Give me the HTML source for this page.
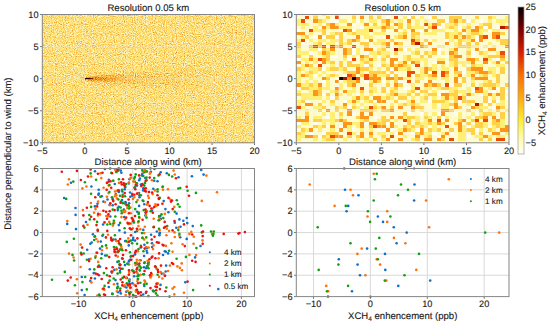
<!DOCTYPE html><html><head><meta charset="utf-8"><style>html,body{margin:0;padding:0;background:#fff;width:550px;height:324px;overflow:hidden}svg{display:block}text{text-rendering:geometricPrecision;font-family:"Liberation Sans", sans-serif;fill:#1a1a1a;stroke:#1a1a1a;stroke-width:0.12px}</style></head><body>
<svg width="550" height="324" viewBox="0 0 550 324">
<defs>
<linearGradient id="cb" x1="0" y1="1" x2="0" y2="0"><stop offset="0" stop-color="#fffff6"/><stop offset="0.12" stop-color="#fffaa0"/><stop offset="0.23" stop-color="#ffee30"/><stop offset="0.38" stop-color="#ffaa10"/><stop offset="0.54" stop-color="#f87000"/><stop offset="0.69" stop-color="#d82000"/><stop offset="0.85" stop-color="#7a0000"/><stop offset="1" stop-color="#000000"/></linearGradient>
</defs>
<filter id="tn" x="0" y="0" width="1" height="1" color-interpolation-filters="sRGB"><feTurbulence type="fractalNoise" baseFrequency="0.9" numOctaves="2" seed="11" result="n0"/><feColorMatrix in="n0" type="matrix" values="1 0 0 0 0 1 0 0 0 0 1 0 0 0 0 0 0 0 0 1" result="n"/><feComposite in="SourceGraphic" in2="n" operator="arithmetic" k1="0" k2="1" k3="0.6769" k4="-0.1077"/><feComponentTransfer><feFuncR type="table" tableValues="1.000 1.000 1.000 1.000 1.000 1.000 0.996 0.992 0.988 0.984 0.980 0.976 0.969 0.961 0.953 0.937 0.925 0.894 0.859 0.827 0.792 0.733 0.667 0.604 0.541 0.478 0.424 0.373 0.322 0.271 0.220 0.169 0.118"/><feFuncG type="table" tableValues="0.988 0.984 0.973 0.961 0.945 0.929 0.914 0.894 0.867 0.831 0.796 0.753 0.710 0.663 0.608 0.553 0.494 0.431 0.369 0.310 0.247 0.208 0.176 0.145 0.114 0.082 0.067 0.059 0.047 0.035 0.024 0.012 0.000"/><feFuncB type="table" tableValues="0.910 0.890 0.847 0.776 0.706 0.635 0.561 0.490 0.431 0.384 0.337 0.298 0.263 0.231 0.196 0.161 0.125 0.102 0.082 0.063 0.043 0.031 0.024 0.016 0.008 0.000 0.000 0.000 0.000 0.000 0.000 0.000 0.000"/></feComponentTransfer><feGaussianBlur stdDeviation="0.5"/></filter>
<filter id="pb" x="-50%" y="-50%" width="200%" height="200%"><feGaussianBlur stdDeviation="1.5 0.5"/></filter>
<g filter="url(#tn)">
<rect x="42.3" y="14.5" width="212.20" height="128.30" fill="#000"/>
<linearGradient id="pg1" gradientUnits="userSpaceOnUse" x1="88.98" y1="0" x2="220.55" y2="0"><stop offset="0" stop-color="#1b1b1b"/><stop offset="1" stop-color="#000000"/></linearGradient>
<filter id="pf1" x="-50%" y="-300%" width="200%" height="700%" color-interpolation-filters="sRGB"><feGaussianBlur stdDeviation="4 2"/></filter>
<polygon points="88.98,76.18 220.55,66.55 220.55,90.95 88.98,81.32" fill="url(#pg1)" filter="url(#pf1)"/>
<linearGradient id="pg2" gradientUnits="userSpaceOnUse" x1="87.29" y1="0" x2="152.64" y2="0"><stop offset="0" stop-color="#2f2f2f"/><stop offset="1" stop-color="#090909"/></linearGradient>
<filter id="pf2" x="-50%" y="-300%" width="200%" height="700%" color-interpolation-filters="sRGB"><feGaussianBlur stdDeviation="3 1.2"/></filter>
<polygon points="87.29,76.95 152.64,73.61 152.64,83.89 87.29,80.55" fill="url(#pg2)" filter="url(#pf2)"/>
<linearGradient id="pg3" gradientUnits="userSpaceOnUse" x1="87.29" y1="0" x2="118.69" y2="0"><stop offset="0" stop-color="#565656"/><stop offset="1" stop-color="#1f1f1f"/></linearGradient>
<filter id="pf3" x="-50%" y="-300%" width="200%" height="700%" color-interpolation-filters="sRGB"><feGaussianBlur stdDeviation="1.5 0.8"/></filter>
<polygon points="87.29,77.68 118.69,76.14 118.69,81.28 87.29,79.74" fill="url(#pg3)" filter="url(#pf3)"/>
<linearGradient id="pg4" gradientUnits="userSpaceOnUse" x1="85.16" y1="0" x2="93.23" y2="0"><stop offset="0" stop-color="#ffffff"/><stop offset="1" stop-color="#8d8d8d"/></linearGradient>
<filter id="pf4" x="-50%" y="-300%" width="200%" height="700%" color-interpolation-filters="sRGB"><feGaussianBlur stdDeviation="0.6 0.3"/></filter>
<polygon points="85.16,78.07 93.23,78.33 93.23,78.97 85.16,79.23" fill="url(#pg4)" filter="url(#pf4)"/>
</g>
<g shape-rendering="crispEdges">
<rect x="296.3" y="14.5" width="212.70" height="128.30" fill="#fffbcc"/>
<rect x="313.32" y="14.50" width="4.25" height="1.60" fill="#fff075"/>
<rect x="321.82" y="14.50" width="4.25" height="1.60" fill="#fff075"/>
<rect x="334.59" y="14.50" width="4.25" height="1.60" fill="#ffd048"/>
<rect x="351.60" y="14.50" width="4.25" height="1.60" fill="#fff075"/>
<rect x="360.11" y="14.50" width="4.25" height="1.60" fill="#fff075"/>
<rect x="368.62" y="14.50" width="4.25" height="1.60" fill="#fff075"/>
<rect x="377.13" y="14.50" width="4.25" height="1.60" fill="#fff075"/>
<rect x="304.81" y="16.10" width="4.25" height="3.21" fill="#ea4c0a"/>
<rect x="313.32" y="16.10" width="4.25" height="3.21" fill="#ffd048"/>
<rect x="326.08" y="16.10" width="4.25" height="3.21" fill="#ffd048"/>
<rect x="334.59" y="16.10" width="4.25" height="3.21" fill="#ea4c0a"/>
<rect x="351.60" y="16.10" width="4.25" height="3.21" fill="#ffd048"/>
<rect x="360.11" y="16.10" width="4.25" height="3.21" fill="#fb961a"/>
<rect x="368.62" y="16.10" width="4.25" height="3.21" fill="#ffd048"/>
<rect x="377.13" y="16.10" width="4.25" height="3.21" fill="#ffd048"/>
<rect x="385.63" y="16.10" width="4.25" height="3.21" fill="#fdfdf2"/>
<rect x="394.14" y="16.10" width="4.25" height="3.21" fill="#ea4c0a"/>
<rect x="402.65" y="16.10" width="4.25" height="3.21" fill="#fff075"/>
<rect x="406.90" y="16.10" width="4.25" height="3.21" fill="#fdfdf2"/>
<rect x="411.16" y="16.10" width="4.25" height="3.21" fill="#ffd048"/>
<rect x="419.67" y="16.10" width="4.25" height="3.21" fill="#fff075"/>
<rect x="428.17" y="16.10" width="4.25" height="3.21" fill="#fdfdf2"/>
<rect x="432.43" y="16.10" width="4.25" height="3.21" fill="#ffd048"/>
<rect x="449.44" y="16.10" width="12.76" height="3.21" fill="#ffd048"/>
<rect x="474.97" y="16.10" width="4.25" height="3.21" fill="#ffd048"/>
<rect x="487.73" y="16.10" width="4.25" height="3.21" fill="#ffd048"/>
<rect x="491.98" y="16.10" width="4.25" height="3.21" fill="#fff075"/>
<rect x="504.75" y="16.10" width="4.25" height="3.21" fill="#fff075"/>
<rect x="296.30" y="19.31" width="4.25" height="3.21" fill="#fff075"/>
<rect x="300.55" y="19.31" width="4.25" height="3.21" fill="#ea4c0a"/>
<rect x="313.32" y="19.31" width="4.25" height="3.21" fill="#fb961a"/>
<rect x="317.57" y="19.31" width="4.25" height="3.21" fill="#ffd048"/>
<rect x="321.82" y="19.31" width="4.25" height="3.21" fill="#fff075"/>
<rect x="330.33" y="19.31" width="8.51" height="3.21" fill="#fdfdf2"/>
<rect x="338.84" y="19.31" width="8.51" height="3.21" fill="#fff075"/>
<rect x="351.60" y="19.31" width="4.25" height="3.21" fill="#fff075"/>
<rect x="355.86" y="19.31" width="4.25" height="3.21" fill="#fdfdf2"/>
<rect x="360.11" y="19.31" width="4.25" height="3.21" fill="#fff075"/>
<rect x="368.62" y="19.31" width="8.51" height="3.21" fill="#fff075"/>
<rect x="381.38" y="19.31" width="4.25" height="3.21" fill="#ffd048"/>
<rect x="385.63" y="19.31" width="4.25" height="3.21" fill="#fb961a"/>
<rect x="389.89" y="19.31" width="4.25" height="3.21" fill="#fff075"/>
<rect x="398.40" y="19.31" width="4.25" height="3.21" fill="#fff075"/>
<rect x="406.90" y="19.31" width="4.25" height="3.21" fill="#fb961a"/>
<rect x="415.41" y="19.31" width="4.25" height="3.21" fill="#fff075"/>
<rect x="423.92" y="19.31" width="4.25" height="3.21" fill="#fff075"/>
<rect x="436.68" y="19.31" width="8.51" height="3.21" fill="#ffd048"/>
<rect x="445.19" y="19.31" width="4.25" height="3.21" fill="#fdfdf2"/>
<rect x="449.44" y="19.31" width="4.25" height="3.21" fill="#ffd048"/>
<rect x="453.70" y="19.31" width="4.25" height="3.21" fill="#fb961a"/>
<rect x="457.95" y="19.31" width="4.25" height="3.21" fill="#fff075"/>
<rect x="462.21" y="19.31" width="4.25" height="3.21" fill="#ffd048"/>
<rect x="466.46" y="19.31" width="4.25" height="3.21" fill="#fdfdf2"/>
<rect x="470.71" y="19.31" width="4.25" height="3.21" fill="#fff075"/>
<rect x="479.22" y="19.31" width="4.25" height="3.21" fill="#fdfdf2"/>
<rect x="487.73" y="19.31" width="4.25" height="3.21" fill="#fff075"/>
<rect x="496.24" y="19.31" width="12.76" height="3.21" fill="#fff075"/>
<rect x="296.30" y="22.52" width="12.76" height="3.21" fill="#fff075"/>
<rect x="317.57" y="22.52" width="4.25" height="3.21" fill="#fff075"/>
<rect x="321.82" y="22.52" width="4.25" height="3.21" fill="#fdfdf2"/>
<rect x="326.08" y="22.52" width="4.25" height="3.21" fill="#ffd048"/>
<rect x="330.33" y="22.52" width="4.25" height="3.21" fill="#fb961a"/>
<rect x="334.59" y="22.52" width="4.25" height="3.21" fill="#fff075"/>
<rect x="347.35" y="22.52" width="4.25" height="3.21" fill="#fb961a"/>
<rect x="351.60" y="22.52" width="4.25" height="3.21" fill="#fdfdf2"/>
<rect x="364.36" y="22.52" width="4.25" height="3.21" fill="#fb961a"/>
<rect x="372.87" y="22.52" width="4.25" height="3.21" fill="#ffd048"/>
<rect x="381.38" y="22.52" width="4.25" height="3.21" fill="#fff075"/>
<rect x="385.63" y="22.52" width="4.25" height="3.21" fill="#fb961a"/>
<rect x="394.14" y="22.52" width="4.25" height="3.21" fill="#fb961a"/>
<rect x="398.40" y="22.52" width="4.25" height="3.21" fill="#ffd048"/>
<rect x="406.90" y="22.52" width="4.25" height="3.21" fill="#ffd048"/>
<rect x="415.41" y="22.52" width="4.25" height="3.21" fill="#fff075"/>
<rect x="423.92" y="22.52" width="4.25" height="3.21" fill="#ea4c0a"/>
<rect x="428.17" y="22.52" width="4.25" height="3.21" fill="#fff075"/>
<rect x="432.43" y="22.52" width="4.25" height="3.21" fill="#fb961a"/>
<rect x="436.68" y="22.52" width="4.25" height="3.21" fill="#ffd048"/>
<rect x="440.94" y="22.52" width="4.25" height="3.21" fill="#fdfdf2"/>
<rect x="445.19" y="22.52" width="8.51" height="3.21" fill="#fff075"/>
<rect x="453.70" y="22.52" width="4.25" height="3.21" fill="#ffd048"/>
<rect x="466.46" y="22.52" width="4.25" height="3.21" fill="#fff075"/>
<rect x="474.97" y="22.52" width="4.25" height="3.21" fill="#fdfdf2"/>
<rect x="479.22" y="22.52" width="4.25" height="3.21" fill="#fff075"/>
<rect x="483.48" y="22.52" width="8.51" height="3.21" fill="#ffd048"/>
<rect x="500.49" y="22.52" width="4.25" height="3.21" fill="#fff075"/>
<rect x="300.55" y="25.73" width="4.25" height="3.21" fill="#fff075"/>
<rect x="313.32" y="25.73" width="4.25" height="3.21" fill="#fff075"/>
<rect x="321.82" y="25.73" width="4.25" height="3.21" fill="#fb961a"/>
<rect x="326.08" y="25.73" width="4.25" height="3.21" fill="#fff075"/>
<rect x="330.33" y="25.73" width="8.51" height="3.21" fill="#fb961a"/>
<rect x="338.84" y="25.73" width="12.76" height="3.21" fill="#fff075"/>
<rect x="360.11" y="25.73" width="4.25" height="3.21" fill="#fdfdf2"/>
<rect x="364.36" y="25.73" width="17.02" height="3.21" fill="#fff075"/>
<rect x="381.38" y="25.73" width="4.25" height="3.21" fill="#fb961a"/>
<rect x="385.63" y="25.73" width="4.25" height="3.21" fill="#ffd048"/>
<rect x="389.89" y="25.73" width="4.25" height="3.21" fill="#fff075"/>
<rect x="398.40" y="25.73" width="4.25" height="3.21" fill="#ffd048"/>
<rect x="406.90" y="25.73" width="4.25" height="3.21" fill="#ffd048"/>
<rect x="411.16" y="25.73" width="12.76" height="3.21" fill="#fff075"/>
<rect x="428.17" y="25.73" width="4.25" height="3.21" fill="#ffd048"/>
<rect x="432.43" y="25.73" width="4.25" height="3.21" fill="#ea4c0a"/>
<rect x="436.68" y="25.73" width="4.25" height="3.21" fill="#fdfdf2"/>
<rect x="445.19" y="25.73" width="4.25" height="3.21" fill="#fff075"/>
<rect x="449.44" y="25.73" width="4.25" height="3.21" fill="#ffd048"/>
<rect x="453.70" y="25.73" width="4.25" height="3.21" fill="#fff075"/>
<rect x="457.95" y="25.73" width="4.25" height="3.21" fill="#fdfdf2"/>
<rect x="462.21" y="25.73" width="4.25" height="3.21" fill="#fff075"/>
<rect x="466.46" y="25.73" width="4.25" height="3.21" fill="#ffd048"/>
<rect x="474.97" y="25.73" width="4.25" height="3.21" fill="#fb961a"/>
<rect x="479.22" y="25.73" width="4.25" height="3.21" fill="#ffd048"/>
<rect x="483.48" y="25.73" width="4.25" height="3.21" fill="#fdfdf2"/>
<rect x="487.73" y="25.73" width="4.25" height="3.21" fill="#ffd048"/>
<rect x="496.24" y="25.73" width="4.25" height="3.21" fill="#fdfdf2"/>
<rect x="500.49" y="25.73" width="4.25" height="3.21" fill="#b01800"/>
<rect x="504.75" y="25.73" width="4.25" height="3.21" fill="#ea4c0a"/>
<rect x="296.30" y="28.93" width="4.25" height="3.21" fill="#fdfdf2"/>
<rect x="309.06" y="28.93" width="4.25" height="3.21" fill="#ea4c0a"/>
<rect x="313.32" y="28.93" width="8.51" height="3.21" fill="#fff075"/>
<rect x="321.82" y="28.93" width="4.25" height="3.21" fill="#ffd048"/>
<rect x="338.84" y="28.93" width="4.25" height="3.21" fill="#fdfdf2"/>
<rect x="343.09" y="28.93" width="4.25" height="3.21" fill="#ea4c0a"/>
<rect x="347.35" y="28.93" width="4.25" height="3.21" fill="#fb961a"/>
<rect x="351.60" y="28.93" width="4.25" height="3.21" fill="#fdfdf2"/>
<rect x="355.86" y="28.93" width="12.76" height="3.21" fill="#fff075"/>
<rect x="368.62" y="28.93" width="4.25" height="3.21" fill="#ea4c0a"/>
<rect x="381.38" y="28.93" width="4.25" height="3.21" fill="#ffd048"/>
<rect x="385.63" y="28.93" width="4.25" height="3.21" fill="#fdfdf2"/>
<rect x="394.14" y="28.93" width="4.25" height="3.21" fill="#fb961a"/>
<rect x="402.65" y="28.93" width="4.25" height="3.21" fill="#fff075"/>
<rect x="411.16" y="28.93" width="4.25" height="3.21" fill="#fb961a"/>
<rect x="419.67" y="28.93" width="4.25" height="3.21" fill="#fdfdf2"/>
<rect x="423.92" y="28.93" width="4.25" height="3.21" fill="#fb961a"/>
<rect x="432.43" y="28.93" width="12.76" height="3.21" fill="#fff075"/>
<rect x="453.70" y="28.93" width="4.25" height="3.21" fill="#fff075"/>
<rect x="462.21" y="28.93" width="4.25" height="3.21" fill="#fb961a"/>
<rect x="466.46" y="28.93" width="4.25" height="3.21" fill="#fff075"/>
<rect x="470.71" y="28.93" width="8.51" height="3.21" fill="#fb961a"/>
<rect x="479.22" y="28.93" width="8.51" height="3.21" fill="#fff075"/>
<rect x="487.73" y="28.93" width="4.25" height="3.21" fill="#fdfdf2"/>
<rect x="491.98" y="28.93" width="8.51" height="3.21" fill="#fff075"/>
<rect x="296.30" y="32.14" width="8.51" height="3.21" fill="#fb961a"/>
<rect x="309.06" y="32.14" width="4.25" height="3.21" fill="#fff075"/>
<rect x="321.82" y="32.14" width="4.25" height="3.21" fill="#ffd048"/>
<rect x="330.33" y="32.14" width="4.25" height="3.21" fill="#fff075"/>
<rect x="334.59" y="32.14" width="8.51" height="3.21" fill="#ffd048"/>
<rect x="347.35" y="32.14" width="4.25" height="3.21" fill="#fff075"/>
<rect x="351.60" y="32.14" width="4.25" height="3.21" fill="#ffd048"/>
<rect x="355.86" y="32.14" width="12.76" height="3.21" fill="#fff075"/>
<rect x="372.87" y="32.14" width="12.76" height="3.21" fill="#fff075"/>
<rect x="398.40" y="32.14" width="4.25" height="3.21" fill="#fff075"/>
<rect x="402.65" y="32.14" width="4.25" height="3.21" fill="#ffd048"/>
<rect x="411.16" y="32.14" width="8.51" height="3.21" fill="#ffd048"/>
<rect x="423.92" y="32.14" width="12.76" height="3.21" fill="#fff075"/>
<rect x="445.19" y="32.14" width="4.25" height="3.21" fill="#ffd048"/>
<rect x="449.44" y="32.14" width="8.51" height="3.21" fill="#fff075"/>
<rect x="457.95" y="32.14" width="4.25" height="3.21" fill="#ffd048"/>
<rect x="466.46" y="32.14" width="4.25" height="3.21" fill="#fff075"/>
<rect x="470.71" y="32.14" width="8.51" height="3.21" fill="#ffd048"/>
<rect x="479.22" y="32.14" width="4.25" height="3.21" fill="#fff075"/>
<rect x="491.98" y="32.14" width="8.51" height="3.21" fill="#fb961a"/>
<rect x="500.49" y="32.14" width="4.25" height="3.21" fill="#ffd048"/>
<rect x="300.55" y="35.35" width="4.25" height="3.21" fill="#fff075"/>
<rect x="304.81" y="35.35" width="4.25" height="3.21" fill="#ffd048"/>
<rect x="313.32" y="35.35" width="4.25" height="3.21" fill="#fdfdf2"/>
<rect x="317.57" y="35.35" width="4.25" height="3.21" fill="#fb961a"/>
<rect x="321.82" y="35.35" width="4.25" height="3.21" fill="#fdfdf2"/>
<rect x="326.08" y="35.35" width="8.51" height="3.21" fill="#ffd048"/>
<rect x="334.59" y="35.35" width="4.25" height="3.21" fill="#fdfdf2"/>
<rect x="338.84" y="35.35" width="4.25" height="3.21" fill="#ffd048"/>
<rect x="355.86" y="35.35" width="4.25" height="3.21" fill="#fb961a"/>
<rect x="364.36" y="35.35" width="8.51" height="3.21" fill="#fff075"/>
<rect x="385.63" y="35.35" width="4.25" height="3.21" fill="#ea4c0a"/>
<rect x="394.14" y="35.35" width="4.25" height="3.21" fill="#fff075"/>
<rect x="398.40" y="35.35" width="4.25" height="3.21" fill="#ffd048"/>
<rect x="402.65" y="35.35" width="4.25" height="3.21" fill="#fb961a"/>
<rect x="411.16" y="35.35" width="4.25" height="3.21" fill="#ffd048"/>
<rect x="415.41" y="35.35" width="4.25" height="3.21" fill="#fff075"/>
<rect x="445.19" y="35.35" width="4.25" height="3.21" fill="#ffd048"/>
<rect x="449.44" y="35.35" width="4.25" height="3.21" fill="#fff075"/>
<rect x="453.70" y="35.35" width="4.25" height="3.21" fill="#fb961a"/>
<rect x="457.95" y="35.35" width="4.25" height="3.21" fill="#fff075"/>
<rect x="462.21" y="35.35" width="4.25" height="3.21" fill="#fb961a"/>
<rect x="466.46" y="35.35" width="4.25" height="3.21" fill="#ffd048"/>
<rect x="470.71" y="35.35" width="4.25" height="3.21" fill="#fff075"/>
<rect x="474.97" y="35.35" width="4.25" height="3.21" fill="#fdfdf2"/>
<rect x="479.22" y="35.35" width="4.25" height="3.21" fill="#fb961a"/>
<rect x="483.48" y="35.35" width="4.25" height="3.21" fill="#ea4c0a"/>
<rect x="491.98" y="35.35" width="4.25" height="3.21" fill="#fb961a"/>
<rect x="496.24" y="35.35" width="4.25" height="3.21" fill="#ea4c0a"/>
<rect x="296.30" y="38.56" width="4.25" height="3.21" fill="#fff075"/>
<rect x="300.55" y="38.56" width="4.25" height="3.21" fill="#ea4c0a"/>
<rect x="304.81" y="38.56" width="4.25" height="3.21" fill="#fdfdf2"/>
<rect x="309.06" y="38.56" width="4.25" height="3.21" fill="#fff075"/>
<rect x="317.57" y="38.56" width="8.51" height="3.21" fill="#fff075"/>
<rect x="330.33" y="38.56" width="8.51" height="3.21" fill="#fff075"/>
<rect x="338.84" y="38.56" width="4.25" height="3.21" fill="#ffd048"/>
<rect x="347.35" y="38.56" width="4.25" height="3.21" fill="#ffd048"/>
<rect x="351.60" y="38.56" width="4.25" height="3.21" fill="#fb961a"/>
<rect x="355.86" y="38.56" width="4.25" height="3.21" fill="#ffd048"/>
<rect x="364.36" y="38.56" width="4.25" height="3.21" fill="#fdfdf2"/>
<rect x="368.62" y="38.56" width="4.25" height="3.21" fill="#fb961a"/>
<rect x="377.13" y="38.56" width="8.51" height="3.21" fill="#fff075"/>
<rect x="389.89" y="38.56" width="4.25" height="3.21" fill="#ffd048"/>
<rect x="411.16" y="38.56" width="4.25" height="3.21" fill="#ea4c0a"/>
<rect x="415.41" y="38.56" width="4.25" height="3.21" fill="#ffd048"/>
<rect x="423.92" y="38.56" width="4.25" height="3.21" fill="#ffd048"/>
<rect x="432.43" y="38.56" width="4.25" height="3.21" fill="#fff075"/>
<rect x="445.19" y="38.56" width="4.25" height="3.21" fill="#fdfdf2"/>
<rect x="449.44" y="38.56" width="4.25" height="3.21" fill="#fff075"/>
<rect x="457.95" y="38.56" width="4.25" height="3.21" fill="#ffd048"/>
<rect x="462.21" y="38.56" width="8.51" height="3.21" fill="#fff075"/>
<rect x="470.71" y="38.56" width="4.25" height="3.21" fill="#fb961a"/>
<rect x="474.97" y="38.56" width="4.25" height="3.21" fill="#fdfdf2"/>
<rect x="479.22" y="38.56" width="4.25" height="3.21" fill="#fb961a"/>
<rect x="496.24" y="38.56" width="4.25" height="3.21" fill="#fff075"/>
<rect x="500.49" y="38.56" width="8.51" height="3.21" fill="#ffd048"/>
<rect x="296.30" y="41.76" width="4.25" height="3.21" fill="#ffd048"/>
<rect x="300.55" y="41.76" width="4.25" height="3.21" fill="#fdfdf2"/>
<rect x="313.32" y="41.76" width="4.25" height="3.21" fill="#fff075"/>
<rect x="317.57" y="41.76" width="4.25" height="3.21" fill="#ffd048"/>
<rect x="326.08" y="41.76" width="8.51" height="3.21" fill="#fff075"/>
<rect x="338.84" y="41.76" width="4.25" height="3.21" fill="#ffd048"/>
<rect x="343.09" y="41.76" width="4.25" height="3.21" fill="#fff075"/>
<rect x="347.35" y="41.76" width="4.25" height="3.21" fill="#ffd048"/>
<rect x="360.11" y="41.76" width="8.51" height="3.21" fill="#ffd048"/>
<rect x="372.87" y="41.76" width="8.51" height="3.21" fill="#fff075"/>
<rect x="381.38" y="41.76" width="4.25" height="3.21" fill="#ffd048"/>
<rect x="385.63" y="41.76" width="4.25" height="3.21" fill="#fb961a"/>
<rect x="394.14" y="41.76" width="4.25" height="3.21" fill="#fb961a"/>
<rect x="398.40" y="41.76" width="4.25" height="3.21" fill="#ffd048"/>
<rect x="411.16" y="41.76" width="4.25" height="3.21" fill="#fb961a"/>
<rect x="415.41" y="41.76" width="4.25" height="3.21" fill="#b01800"/>
<rect x="419.67" y="41.76" width="4.25" height="3.21" fill="#ffd048"/>
<rect x="428.17" y="41.76" width="4.25" height="3.21" fill="#fb961a"/>
<rect x="445.19" y="41.76" width="4.25" height="3.21" fill="#fb961a"/>
<rect x="453.70" y="41.76" width="4.25" height="3.21" fill="#fff075"/>
<rect x="457.95" y="41.76" width="4.25" height="3.21" fill="#ffd048"/>
<rect x="466.46" y="41.76" width="4.25" height="3.21" fill="#ffd048"/>
<rect x="474.97" y="41.76" width="4.25" height="3.21" fill="#ffd048"/>
<rect x="487.73" y="41.76" width="4.25" height="3.21" fill="#fff075"/>
<rect x="500.49" y="41.76" width="8.51" height="3.21" fill="#ffd048"/>
<rect x="296.30" y="44.97" width="4.25" height="3.21" fill="#ffd048"/>
<rect x="309.06" y="44.97" width="4.25" height="3.21" fill="#ffd048"/>
<rect x="313.32" y="44.97" width="4.25" height="3.21" fill="#ea4c0a"/>
<rect x="317.57" y="44.97" width="4.25" height="3.21" fill="#ffd048"/>
<rect x="321.82" y="44.97" width="4.25" height="3.21" fill="#ea4c0a"/>
<rect x="330.33" y="44.97" width="4.25" height="3.21" fill="#ea4c0a"/>
<rect x="334.59" y="44.97" width="4.25" height="3.21" fill="#ffd048"/>
<rect x="338.84" y="44.97" width="4.25" height="3.21" fill="#fb961a"/>
<rect x="351.60" y="44.97" width="4.25" height="3.21" fill="#ea4c0a"/>
<rect x="364.36" y="44.97" width="4.25" height="3.21" fill="#ffd048"/>
<rect x="381.38" y="44.97" width="4.25" height="3.21" fill="#fff075"/>
<rect x="385.63" y="44.97" width="4.25" height="3.21" fill="#fb961a"/>
<rect x="398.40" y="44.97" width="4.25" height="3.21" fill="#fff075"/>
<rect x="419.67" y="44.97" width="4.25" height="3.21" fill="#fb961a"/>
<rect x="423.92" y="44.97" width="4.25" height="3.21" fill="#ffd048"/>
<rect x="436.68" y="44.97" width="8.51" height="3.21" fill="#fff075"/>
<rect x="453.70" y="44.97" width="4.25" height="3.21" fill="#fff075"/>
<rect x="457.95" y="44.97" width="12.76" height="3.21" fill="#ffd048"/>
<rect x="470.71" y="44.97" width="8.51" height="3.21" fill="#fff075"/>
<rect x="483.48" y="44.97" width="4.25" height="3.21" fill="#fff075"/>
<rect x="491.98" y="44.97" width="4.25" height="3.21" fill="#fff075"/>
<rect x="504.75" y="44.97" width="4.25" height="3.21" fill="#fb961a"/>
<rect x="296.30" y="48.18" width="4.25" height="3.21" fill="#fff075"/>
<rect x="309.06" y="48.18" width="8.51" height="3.21" fill="#fff075"/>
<rect x="317.57" y="48.18" width="4.25" height="3.21" fill="#fdfdf2"/>
<rect x="321.82" y="48.18" width="4.25" height="3.21" fill="#ffd048"/>
<rect x="326.08" y="48.18" width="4.25" height="3.21" fill="#fff075"/>
<rect x="330.33" y="48.18" width="4.25" height="3.21" fill="#fb961a"/>
<rect x="343.09" y="48.18" width="4.25" height="3.21" fill="#fb961a"/>
<rect x="347.35" y="48.18" width="4.25" height="3.21" fill="#ffd048"/>
<rect x="351.60" y="48.18" width="4.25" height="3.21" fill="#fdfdf2"/>
<rect x="355.86" y="48.18" width="4.25" height="3.21" fill="#fff075"/>
<rect x="364.36" y="48.18" width="8.51" height="3.21" fill="#fb961a"/>
<rect x="377.13" y="48.18" width="4.25" height="3.21" fill="#fff075"/>
<rect x="381.38" y="48.18" width="4.25" height="3.21" fill="#ffd048"/>
<rect x="394.14" y="48.18" width="4.25" height="3.21" fill="#b01800"/>
<rect x="398.40" y="48.18" width="4.25" height="3.21" fill="#ffd048"/>
<rect x="402.65" y="48.18" width="4.25" height="3.21" fill="#fdfdf2"/>
<rect x="406.90" y="48.18" width="4.25" height="3.21" fill="#fff075"/>
<rect x="415.41" y="48.18" width="4.25" height="3.21" fill="#fff075"/>
<rect x="432.43" y="48.18" width="4.25" height="3.21" fill="#fb961a"/>
<rect x="436.68" y="48.18" width="4.25" height="3.21" fill="#fdfdf2"/>
<rect x="449.44" y="48.18" width="4.25" height="3.21" fill="#fff075"/>
<rect x="453.70" y="48.18" width="4.25" height="3.21" fill="#fb961a"/>
<rect x="466.46" y="48.18" width="4.25" height="3.21" fill="#fff075"/>
<rect x="474.97" y="48.18" width="4.25" height="3.21" fill="#fb961a"/>
<rect x="487.73" y="48.18" width="8.51" height="3.21" fill="#fb961a"/>
<rect x="296.30" y="51.39" width="12.76" height="3.21" fill="#fff075"/>
<rect x="309.06" y="51.39" width="4.25" height="3.21" fill="#fdfdf2"/>
<rect x="317.57" y="51.39" width="4.25" height="3.21" fill="#fff075"/>
<rect x="321.82" y="51.39" width="4.25" height="3.21" fill="#fb961a"/>
<rect x="326.08" y="51.39" width="4.25" height="3.21" fill="#ffd048"/>
<rect x="330.33" y="51.39" width="4.25" height="3.21" fill="#fff075"/>
<rect x="343.09" y="51.39" width="4.25" height="3.21" fill="#fb961a"/>
<rect x="347.35" y="51.39" width="4.25" height="3.21" fill="#ffd048"/>
<rect x="351.60" y="51.39" width="4.25" height="3.21" fill="#fdfdf2"/>
<rect x="355.86" y="51.39" width="4.25" height="3.21" fill="#fff075"/>
<rect x="364.36" y="51.39" width="4.25" height="3.21" fill="#fdfdf2"/>
<rect x="368.62" y="51.39" width="8.51" height="3.21" fill="#fff075"/>
<rect x="377.13" y="51.39" width="4.25" height="3.21" fill="#ffd048"/>
<rect x="381.38" y="51.39" width="8.51" height="3.21" fill="#fff075"/>
<rect x="394.14" y="51.39" width="4.25" height="3.21" fill="#ffd048"/>
<rect x="411.16" y="51.39" width="4.25" height="3.21" fill="#fff075"/>
<rect x="415.41" y="51.39" width="4.25" height="3.21" fill="#ffd048"/>
<rect x="423.92" y="51.39" width="4.25" height="3.21" fill="#ffd048"/>
<rect x="428.17" y="51.39" width="4.25" height="3.21" fill="#fff075"/>
<rect x="432.43" y="51.39" width="4.25" height="3.21" fill="#ffd048"/>
<rect x="436.68" y="51.39" width="4.25" height="3.21" fill="#fdfdf2"/>
<rect x="440.94" y="51.39" width="4.25" height="3.21" fill="#fff075"/>
<rect x="449.44" y="51.39" width="4.25" height="3.21" fill="#fb961a"/>
<rect x="453.70" y="51.39" width="4.25" height="3.21" fill="#ffd048"/>
<rect x="466.46" y="51.39" width="4.25" height="3.21" fill="#ffd048"/>
<rect x="470.71" y="51.39" width="4.25" height="3.21" fill="#fdfdf2"/>
<rect x="479.22" y="51.39" width="4.25" height="3.21" fill="#ffd048"/>
<rect x="483.48" y="51.39" width="4.25" height="3.21" fill="#fff075"/>
<rect x="496.24" y="51.39" width="4.25" height="3.21" fill="#fff075"/>
<rect x="500.49" y="51.39" width="4.25" height="3.21" fill="#ea4c0a"/>
<rect x="504.75" y="51.39" width="4.25" height="3.21" fill="#fdfdf2"/>
<rect x="296.30" y="54.59" width="4.25" height="3.21" fill="#ffd048"/>
<rect x="309.06" y="54.59" width="4.25" height="3.21" fill="#ffd048"/>
<rect x="321.82" y="54.59" width="4.25" height="3.21" fill="#fff075"/>
<rect x="326.08" y="54.59" width="4.25" height="3.21" fill="#ffd048"/>
<rect x="330.33" y="54.59" width="8.51" height="3.21" fill="#fdfdf2"/>
<rect x="343.09" y="54.59" width="4.25" height="3.21" fill="#ffd048"/>
<rect x="347.35" y="54.59" width="4.25" height="3.21" fill="#fdfdf2"/>
<rect x="351.60" y="54.59" width="4.25" height="3.21" fill="#fff075"/>
<rect x="360.11" y="54.59" width="4.25" height="3.21" fill="#fb961a"/>
<rect x="364.36" y="54.59" width="4.25" height="3.21" fill="#ffd048"/>
<rect x="372.87" y="54.59" width="4.25" height="3.21" fill="#fff075"/>
<rect x="377.13" y="54.59" width="4.25" height="3.21" fill="#fdfdf2"/>
<rect x="381.38" y="54.59" width="4.25" height="3.21" fill="#fff075"/>
<rect x="385.63" y="54.59" width="4.25" height="3.21" fill="#ffd048"/>
<rect x="389.89" y="54.59" width="4.25" height="3.21" fill="#fdfdf2"/>
<rect x="402.65" y="54.59" width="4.25" height="3.21" fill="#fff075"/>
<rect x="406.90" y="54.59" width="4.25" height="3.21" fill="#ffd048"/>
<rect x="419.67" y="54.59" width="4.25" height="3.21" fill="#ffd048"/>
<rect x="428.17" y="54.59" width="4.25" height="3.21" fill="#ffd048"/>
<rect x="440.94" y="54.59" width="8.51" height="3.21" fill="#fdfdf2"/>
<rect x="449.44" y="54.59" width="4.25" height="3.21" fill="#ffd048"/>
<rect x="453.70" y="54.59" width="8.51" height="3.21" fill="#fb961a"/>
<rect x="466.46" y="54.59" width="4.25" height="3.21" fill="#fff075"/>
<rect x="470.71" y="54.59" width="4.25" height="3.21" fill="#fdfdf2"/>
<rect x="483.48" y="54.59" width="4.25" height="3.21" fill="#fff075"/>
<rect x="487.73" y="54.59" width="12.76" height="3.21" fill="#ffd048"/>
<rect x="500.49" y="54.59" width="4.25" height="3.21" fill="#fb961a"/>
<rect x="296.30" y="57.80" width="4.25" height="3.21" fill="#fdfdf2"/>
<rect x="300.55" y="57.80" width="8.51" height="3.21" fill="#fff075"/>
<rect x="309.06" y="57.80" width="4.25" height="3.21" fill="#fb961a"/>
<rect x="313.32" y="57.80" width="4.25" height="3.21" fill="#fff075"/>
<rect x="317.57" y="57.80" width="4.25" height="3.21" fill="#ea4c0a"/>
<rect x="321.82" y="57.80" width="4.25" height="3.21" fill="#fb961a"/>
<rect x="326.08" y="57.80" width="4.25" height="3.21" fill="#ffd048"/>
<rect x="343.09" y="57.80" width="4.25" height="3.21" fill="#fff075"/>
<rect x="347.35" y="57.80" width="4.25" height="3.21" fill="#fdfdf2"/>
<rect x="351.60" y="57.80" width="4.25" height="3.21" fill="#ea4c0a"/>
<rect x="360.11" y="57.80" width="4.25" height="3.21" fill="#ffd048"/>
<rect x="364.36" y="57.80" width="4.25" height="3.21" fill="#fff075"/>
<rect x="368.62" y="57.80" width="4.25" height="3.21" fill="#fb961a"/>
<rect x="372.87" y="57.80" width="4.25" height="3.21" fill="#fff075"/>
<rect x="381.38" y="57.80" width="4.25" height="3.21" fill="#ffd048"/>
<rect x="389.89" y="57.80" width="8.51" height="3.21" fill="#fb961a"/>
<rect x="402.65" y="57.80" width="4.25" height="3.21" fill="#fff075"/>
<rect x="406.90" y="57.80" width="4.25" height="3.21" fill="#ffd048"/>
<rect x="411.16" y="57.80" width="17.02" height="3.21" fill="#fff075"/>
<rect x="436.68" y="57.80" width="8.51" height="3.21" fill="#fff075"/>
<rect x="449.44" y="57.80" width="8.51" height="3.21" fill="#ffd048"/>
<rect x="466.46" y="57.80" width="8.51" height="3.21" fill="#fb961a"/>
<rect x="474.97" y="57.80" width="4.25" height="3.21" fill="#ffd048"/>
<rect x="483.48" y="57.80" width="4.25" height="3.21" fill="#ea4c0a"/>
<rect x="487.73" y="57.80" width="4.25" height="3.21" fill="#fff075"/>
<rect x="496.24" y="57.80" width="4.25" height="3.21" fill="#fdfdf2"/>
<rect x="500.49" y="57.80" width="4.25" height="3.21" fill="#ffd048"/>
<rect x="296.30" y="61.01" width="4.25" height="3.21" fill="#fb961a"/>
<rect x="304.81" y="61.01" width="4.25" height="3.21" fill="#fff075"/>
<rect x="313.32" y="61.01" width="4.25" height="3.21" fill="#fff075"/>
<rect x="317.57" y="61.01" width="4.25" height="3.21" fill="#fdfdf2"/>
<rect x="321.82" y="61.01" width="4.25" height="3.21" fill="#fb961a"/>
<rect x="326.08" y="61.01" width="4.25" height="3.21" fill="#fff075"/>
<rect x="330.33" y="61.01" width="4.25" height="3.21" fill="#ffd048"/>
<rect x="338.84" y="61.01" width="4.25" height="3.21" fill="#ffd048"/>
<rect x="347.35" y="61.01" width="4.25" height="3.21" fill="#ffd048"/>
<rect x="360.11" y="61.01" width="4.25" height="3.21" fill="#fff075"/>
<rect x="364.36" y="61.01" width="4.25" height="3.21" fill="#ffd048"/>
<rect x="368.62" y="61.01" width="4.25" height="3.21" fill="#fff075"/>
<rect x="381.38" y="61.01" width="4.25" height="3.21" fill="#fff075"/>
<rect x="389.89" y="61.01" width="4.25" height="3.21" fill="#fb961a"/>
<rect x="394.14" y="61.01" width="4.25" height="3.21" fill="#fdfdf2"/>
<rect x="398.40" y="61.01" width="4.25" height="3.21" fill="#fff075"/>
<rect x="402.65" y="61.01" width="4.25" height="3.21" fill="#fb961a"/>
<rect x="411.16" y="61.01" width="4.25" height="3.21" fill="#fb961a"/>
<rect x="415.41" y="61.01" width="4.25" height="3.21" fill="#ffd048"/>
<rect x="423.92" y="61.01" width="4.25" height="3.21" fill="#fff075"/>
<rect x="432.43" y="61.01" width="4.25" height="3.21" fill="#fdfdf2"/>
<rect x="436.68" y="61.01" width="8.51" height="3.21" fill="#fb961a"/>
<rect x="445.19" y="61.01" width="4.25" height="3.21" fill="#fdfdf2"/>
<rect x="449.44" y="61.01" width="4.25" height="3.21" fill="#fff075"/>
<rect x="453.70" y="61.01" width="4.25" height="3.21" fill="#ffd048"/>
<rect x="457.95" y="61.01" width="12.76" height="3.21" fill="#fff075"/>
<rect x="470.71" y="61.01" width="4.25" height="3.21" fill="#fb961a"/>
<rect x="483.48" y="61.01" width="4.25" height="3.21" fill="#fb961a"/>
<rect x="491.98" y="61.01" width="4.25" height="3.21" fill="#fff075"/>
<rect x="496.24" y="61.01" width="4.25" height="3.21" fill="#fb961a"/>
<rect x="504.75" y="61.01" width="4.25" height="3.21" fill="#ffd048"/>
<rect x="300.55" y="64.22" width="4.25" height="3.21" fill="#fff075"/>
<rect x="304.81" y="64.22" width="4.25" height="3.21" fill="#fb961a"/>
<rect x="309.06" y="64.22" width="4.25" height="3.21" fill="#ffd048"/>
<rect x="317.57" y="64.22" width="4.25" height="3.21" fill="#ea4c0a"/>
<rect x="330.33" y="64.22" width="4.25" height="3.21" fill="#fff075"/>
<rect x="338.84" y="64.22" width="4.25" height="3.21" fill="#ffd048"/>
<rect x="347.35" y="64.22" width="12.76" height="3.21" fill="#ffd048"/>
<rect x="360.11" y="64.22" width="4.25" height="3.21" fill="#fff075"/>
<rect x="364.36" y="64.22" width="4.25" height="3.21" fill="#fdfdf2"/>
<rect x="368.62" y="64.22" width="4.25" height="3.21" fill="#ffd048"/>
<rect x="377.13" y="64.22" width="4.25" height="3.21" fill="#fdfdf2"/>
<rect x="381.38" y="64.22" width="4.25" height="3.21" fill="#ffd048"/>
<rect x="385.63" y="64.22" width="4.25" height="3.21" fill="#fff075"/>
<rect x="389.89" y="64.22" width="4.25" height="3.21" fill="#fb961a"/>
<rect x="394.14" y="64.22" width="4.25" height="3.21" fill="#ffd048"/>
<rect x="398.40" y="64.22" width="4.25" height="3.21" fill="#fb961a"/>
<rect x="402.65" y="64.22" width="4.25" height="3.21" fill="#ffd048"/>
<rect x="406.90" y="64.22" width="4.25" height="3.21" fill="#fff075"/>
<rect x="415.41" y="64.22" width="4.25" height="3.21" fill="#ea4c0a"/>
<rect x="423.92" y="64.22" width="4.25" height="3.21" fill="#fff075"/>
<rect x="432.43" y="64.22" width="4.25" height="3.21" fill="#fff075"/>
<rect x="440.94" y="64.22" width="4.25" height="3.21" fill="#fff075"/>
<rect x="449.44" y="64.22" width="4.25" height="3.21" fill="#fff075"/>
<rect x="453.70" y="64.22" width="4.25" height="3.21" fill="#ffd048"/>
<rect x="462.21" y="64.22" width="4.25" height="3.21" fill="#fff075"/>
<rect x="470.71" y="64.22" width="4.25" height="3.21" fill="#ffd048"/>
<rect x="474.97" y="64.22" width="8.51" height="3.21" fill="#fff075"/>
<rect x="496.24" y="64.22" width="8.51" height="3.21" fill="#fff075"/>
<rect x="296.30" y="67.42" width="4.25" height="3.21" fill="#ffd048"/>
<rect x="300.55" y="67.42" width="4.25" height="3.21" fill="#fff075"/>
<rect x="309.06" y="67.42" width="8.51" height="3.21" fill="#fff075"/>
<rect x="317.57" y="67.42" width="4.25" height="3.21" fill="#ffd048"/>
<rect x="321.82" y="67.42" width="4.25" height="3.21" fill="#fdfdf2"/>
<rect x="326.08" y="67.42" width="4.25" height="3.21" fill="#fff075"/>
<rect x="330.33" y="67.42" width="8.51" height="3.21" fill="#ffd048"/>
<rect x="338.84" y="67.42" width="4.25" height="3.21" fill="#fff075"/>
<rect x="343.09" y="67.42" width="4.25" height="3.21" fill="#ffd048"/>
<rect x="355.86" y="67.42" width="4.25" height="3.21" fill="#fb961a"/>
<rect x="360.11" y="67.42" width="8.51" height="3.21" fill="#ffd048"/>
<rect x="368.62" y="67.42" width="4.25" height="3.21" fill="#fff075"/>
<rect x="377.13" y="67.42" width="4.25" height="3.21" fill="#fff075"/>
<rect x="385.63" y="67.42" width="4.25" height="3.21" fill="#ffd048"/>
<rect x="389.89" y="67.42" width="4.25" height="3.21" fill="#fdfdf2"/>
<rect x="394.14" y="67.42" width="4.25" height="3.21" fill="#fb961a"/>
<rect x="398.40" y="67.42" width="8.51" height="3.21" fill="#fff075"/>
<rect x="406.90" y="67.42" width="4.25" height="3.21" fill="#ffd048"/>
<rect x="419.67" y="67.42" width="4.25" height="3.21" fill="#fff075"/>
<rect x="423.92" y="67.42" width="4.25" height="3.21" fill="#fb961a"/>
<rect x="428.17" y="67.42" width="4.25" height="3.21" fill="#ffd048"/>
<rect x="432.43" y="67.42" width="4.25" height="3.21" fill="#fff075"/>
<rect x="440.94" y="67.42" width="8.51" height="3.21" fill="#fff075"/>
<rect x="453.70" y="67.42" width="4.25" height="3.21" fill="#fb961a"/>
<rect x="462.21" y="67.42" width="4.25" height="3.21" fill="#fdfdf2"/>
<rect x="466.46" y="67.42" width="4.25" height="3.21" fill="#ffd048"/>
<rect x="470.71" y="67.42" width="12.76" height="3.21" fill="#fb961a"/>
<rect x="487.73" y="67.42" width="8.51" height="3.21" fill="#fff075"/>
<rect x="500.49" y="67.42" width="4.25" height="3.21" fill="#ffd048"/>
<rect x="296.30" y="70.63" width="4.25" height="3.21" fill="#fff075"/>
<rect x="304.81" y="70.63" width="4.25" height="3.21" fill="#fff075"/>
<rect x="309.06" y="70.63" width="4.25" height="3.21" fill="#ffd048"/>
<rect x="313.32" y="70.63" width="4.25" height="3.21" fill="#fff075"/>
<rect x="321.82" y="70.63" width="4.25" height="3.21" fill="#fff075"/>
<rect x="334.59" y="70.63" width="4.25" height="3.21" fill="#fdfdf2"/>
<rect x="343.09" y="70.63" width="4.25" height="3.21" fill="#fff075"/>
<rect x="347.35" y="70.63" width="8.51" height="3.21" fill="#ffd048"/>
<rect x="355.86" y="70.63" width="4.25" height="3.21" fill="#fb961a"/>
<rect x="360.11" y="70.63" width="4.25" height="3.21" fill="#fff075"/>
<rect x="368.62" y="70.63" width="17.02" height="3.21" fill="#ffd048"/>
<rect x="389.89" y="70.63" width="4.25" height="3.21" fill="#ffd048"/>
<rect x="394.14" y="70.63" width="4.25" height="3.21" fill="#fdfdf2"/>
<rect x="406.90" y="70.63" width="8.51" height="3.21" fill="#ea4c0a"/>
<rect x="419.67" y="70.63" width="4.25" height="3.21" fill="#fff075"/>
<rect x="423.92" y="70.63" width="4.25" height="3.21" fill="#fb961a"/>
<rect x="428.17" y="70.63" width="4.25" height="3.21" fill="#fdfdf2"/>
<rect x="432.43" y="70.63" width="4.25" height="3.21" fill="#ea4c0a"/>
<rect x="440.94" y="70.63" width="4.25" height="3.21" fill="#ea4c0a"/>
<rect x="445.19" y="70.63" width="4.25" height="3.21" fill="#fb961a"/>
<rect x="453.70" y="70.63" width="8.51" height="3.21" fill="#ffd048"/>
<rect x="462.21" y="70.63" width="4.25" height="3.21" fill="#fdfdf2"/>
<rect x="466.46" y="70.63" width="8.51" height="3.21" fill="#fff075"/>
<rect x="474.97" y="70.63" width="4.25" height="3.21" fill="#ffd048"/>
<rect x="479.22" y="70.63" width="8.51" height="3.21" fill="#fb961a"/>
<rect x="487.73" y="70.63" width="4.25" height="3.21" fill="#ffd048"/>
<rect x="491.98" y="70.63" width="4.25" height="3.21" fill="#fff075"/>
<rect x="500.49" y="70.63" width="4.25" height="3.21" fill="#ffd048"/>
<rect x="504.75" y="70.63" width="4.25" height="3.21" fill="#fdfdf2"/>
<rect x="296.30" y="73.84" width="4.25" height="3.21" fill="#fff075"/>
<rect x="300.55" y="73.84" width="4.25" height="3.21" fill="#fb961a"/>
<rect x="304.81" y="73.84" width="4.25" height="3.21" fill="#ffd048"/>
<rect x="309.06" y="73.84" width="4.25" height="3.21" fill="#fff075"/>
<rect x="313.32" y="73.84" width="4.25" height="3.21" fill="#fdfdf2"/>
<rect x="317.57" y="73.84" width="4.25" height="3.21" fill="#fff075"/>
<rect x="326.08" y="73.84" width="4.25" height="3.21" fill="#fff075"/>
<rect x="330.33" y="73.84" width="4.25" height="3.21" fill="#ffd048"/>
<rect x="334.59" y="73.84" width="4.25" height="3.21" fill="#fff075"/>
<rect x="343.09" y="73.84" width="4.25" height="3.21" fill="#fdfdf2"/>
<rect x="347.35" y="73.84" width="4.25" height="3.21" fill="#ea4c0a"/>
<rect x="351.60" y="73.84" width="4.25" height="3.21" fill="#fb961a"/>
<rect x="360.11" y="73.84" width="4.25" height="3.21" fill="#ffd048"/>
<rect x="364.36" y="73.84" width="4.25" height="3.21" fill="#ea4c0a"/>
<rect x="368.62" y="73.84" width="4.25" height="3.21" fill="#ffd048"/>
<rect x="372.87" y="73.84" width="4.25" height="3.21" fill="#fb961a"/>
<rect x="377.13" y="73.84" width="8.51" height="3.21" fill="#fff075"/>
<rect x="385.63" y="73.84" width="4.25" height="3.21" fill="#ffd048"/>
<rect x="389.89" y="73.84" width="4.25" height="3.21" fill="#fdfdf2"/>
<rect x="394.14" y="73.84" width="4.25" height="3.21" fill="#ffd048"/>
<rect x="406.90" y="73.84" width="4.25" height="3.21" fill="#ea4c0a"/>
<rect x="415.41" y="73.84" width="4.25" height="3.21" fill="#ffd048"/>
<rect x="419.67" y="73.84" width="8.51" height="3.21" fill="#fff075"/>
<rect x="428.17" y="73.84" width="4.25" height="3.21" fill="#ffd048"/>
<rect x="432.43" y="73.84" width="4.25" height="3.21" fill="#fb961a"/>
<rect x="440.94" y="73.84" width="4.25" height="3.21" fill="#ea4c0a"/>
<rect x="445.19" y="73.84" width="4.25" height="3.21" fill="#ffd048"/>
<rect x="453.70" y="73.84" width="4.25" height="3.21" fill="#fff075"/>
<rect x="457.95" y="73.84" width="4.25" height="3.21" fill="#fb961a"/>
<rect x="466.46" y="73.84" width="4.25" height="3.21" fill="#fff075"/>
<rect x="470.71" y="73.84" width="4.25" height="3.21" fill="#fb961a"/>
<rect x="479.22" y="73.84" width="4.25" height="3.21" fill="#fff075"/>
<rect x="483.48" y="73.84" width="4.25" height="3.21" fill="#ffd048"/>
<rect x="491.98" y="73.84" width="4.25" height="3.21" fill="#fff075"/>
<rect x="496.24" y="73.84" width="4.25" height="3.21" fill="#ffd048"/>
<rect x="296.30" y="77.05" width="4.25" height="3.21" fill="#fff075"/>
<rect x="309.06" y="77.05" width="4.25" height="3.21" fill="#fff075"/>
<rect x="321.82" y="77.05" width="4.25" height="3.21" fill="#fb961a"/>
<rect x="326.08" y="77.05" width="4.25" height="3.21" fill="#ffd048"/>
<rect x="334.59" y="77.05" width="4.25" height="3.21" fill="#fdfdf2"/>
<rect x="338.84" y="77.05" width="4.25" height="3.21" fill="#1e0505"/>
<rect x="343.09" y="77.05" width="4.25" height="3.21" fill="#b01800"/>
<rect x="347.35" y="77.05" width="4.25" height="3.21" fill="#fb961a"/>
<rect x="351.60" y="77.05" width="4.25" height="3.21" fill="#1e0505"/>
<rect x="355.86" y="77.05" width="4.25" height="3.21" fill="#ea4c0a"/>
<rect x="364.36" y="77.05" width="4.25" height="3.21" fill="#ea4c0a"/>
<rect x="368.62" y="77.05" width="12.76" height="3.21" fill="#fb961a"/>
<rect x="385.63" y="77.05" width="8.51" height="3.21" fill="#fb961a"/>
<rect x="394.14" y="77.05" width="4.25" height="3.21" fill="#ffd048"/>
<rect x="398.40" y="77.05" width="4.25" height="3.21" fill="#fb961a"/>
<rect x="402.65" y="77.05" width="8.51" height="3.21" fill="#fff075"/>
<rect x="415.41" y="77.05" width="8.51" height="3.21" fill="#fff075"/>
<rect x="428.17" y="77.05" width="8.51" height="3.21" fill="#fff075"/>
<rect x="440.94" y="77.05" width="8.51" height="3.21" fill="#fff075"/>
<rect x="453.70" y="77.05" width="4.25" height="3.21" fill="#fb961a"/>
<rect x="462.21" y="77.05" width="4.25" height="3.21" fill="#ffd048"/>
<rect x="470.71" y="77.05" width="4.25" height="3.21" fill="#ffd048"/>
<rect x="474.97" y="77.05" width="12.76" height="3.21" fill="#fb961a"/>
<rect x="496.24" y="77.05" width="4.25" height="3.21" fill="#ffd048"/>
<rect x="296.30" y="80.25" width="4.25" height="3.21" fill="#fff075"/>
<rect x="304.81" y="80.25" width="4.25" height="3.21" fill="#fff075"/>
<rect x="313.32" y="80.25" width="4.25" height="3.21" fill="#fff075"/>
<rect x="321.82" y="80.25" width="4.25" height="3.21" fill="#fdfdf2"/>
<rect x="326.08" y="80.25" width="4.25" height="3.21" fill="#fff075"/>
<rect x="334.59" y="80.25" width="4.25" height="3.21" fill="#fb961a"/>
<rect x="343.09" y="80.25" width="4.25" height="3.21" fill="#fff075"/>
<rect x="347.35" y="80.25" width="8.51" height="3.21" fill="#ffd048"/>
<rect x="355.86" y="80.25" width="4.25" height="3.21" fill="#fb961a"/>
<rect x="364.36" y="80.25" width="4.25" height="3.21" fill="#fdfdf2"/>
<rect x="368.62" y="80.25" width="4.25" height="3.21" fill="#fff075"/>
<rect x="372.87" y="80.25" width="4.25" height="3.21" fill="#fb961a"/>
<rect x="377.13" y="80.25" width="4.25" height="3.21" fill="#ffd048"/>
<rect x="381.38" y="80.25" width="4.25" height="3.21" fill="#fdfdf2"/>
<rect x="385.63" y="80.25" width="4.25" height="3.21" fill="#fff075"/>
<rect x="394.14" y="80.25" width="4.25" height="3.21" fill="#ffd048"/>
<rect x="398.40" y="80.25" width="4.25" height="3.21" fill="#fdfdf2"/>
<rect x="406.90" y="80.25" width="4.25" height="3.21" fill="#ea4c0a"/>
<rect x="415.41" y="80.25" width="4.25" height="3.21" fill="#ffd048"/>
<rect x="428.17" y="80.25" width="4.25" height="3.21" fill="#fb961a"/>
<rect x="445.19" y="80.25" width="4.25" height="3.21" fill="#fff075"/>
<rect x="453.70" y="80.25" width="4.25" height="3.21" fill="#fb961a"/>
<rect x="462.21" y="80.25" width="4.25" height="3.21" fill="#ffd048"/>
<rect x="470.71" y="80.25" width="4.25" height="3.21" fill="#fff075"/>
<rect x="483.48" y="80.25" width="4.25" height="3.21" fill="#fff075"/>
<rect x="487.73" y="80.25" width="4.25" height="3.21" fill="#ffd048"/>
<rect x="496.24" y="80.25" width="4.25" height="3.21" fill="#ffd048"/>
<rect x="296.30" y="83.46" width="4.25" height="3.21" fill="#fb961a"/>
<rect x="300.55" y="83.46" width="8.51" height="3.21" fill="#fff075"/>
<rect x="309.06" y="83.46" width="4.25" height="3.21" fill="#ffd048"/>
<rect x="313.32" y="83.46" width="4.25" height="3.21" fill="#fff075"/>
<rect x="317.57" y="83.46" width="4.25" height="3.21" fill="#fb961a"/>
<rect x="326.08" y="83.46" width="4.25" height="3.21" fill="#fff075"/>
<rect x="334.59" y="83.46" width="4.25" height="3.21" fill="#fdfdf2"/>
<rect x="338.84" y="83.46" width="4.25" height="3.21" fill="#fff075"/>
<rect x="347.35" y="83.46" width="4.25" height="3.21" fill="#ffd048"/>
<rect x="351.60" y="83.46" width="4.25" height="3.21" fill="#fb961a"/>
<rect x="368.62" y="83.46" width="4.25" height="3.21" fill="#ffd048"/>
<rect x="385.63" y="83.46" width="4.25" height="3.21" fill="#ffd048"/>
<rect x="394.14" y="83.46" width="4.25" height="3.21" fill="#fb961a"/>
<rect x="398.40" y="83.46" width="4.25" height="3.21" fill="#ffd048"/>
<rect x="402.65" y="83.46" width="4.25" height="3.21" fill="#fdfdf2"/>
<rect x="411.16" y="83.46" width="4.25" height="3.21" fill="#fff075"/>
<rect x="423.92" y="83.46" width="4.25" height="3.21" fill="#fb961a"/>
<rect x="428.17" y="83.46" width="4.25" height="3.21" fill="#ffd048"/>
<rect x="432.43" y="83.46" width="4.25" height="3.21" fill="#fb961a"/>
<rect x="436.68" y="83.46" width="4.25" height="3.21" fill="#ffd048"/>
<rect x="445.19" y="83.46" width="4.25" height="3.21" fill="#ea4c0a"/>
<rect x="449.44" y="83.46" width="4.25" height="3.21" fill="#fdfdf2"/>
<rect x="453.70" y="83.46" width="8.51" height="3.21" fill="#ffd048"/>
<rect x="470.71" y="83.46" width="4.25" height="3.21" fill="#ffd048"/>
<rect x="479.22" y="83.46" width="4.25" height="3.21" fill="#fff075"/>
<rect x="483.48" y="83.46" width="12.76" height="3.21" fill="#ffd048"/>
<rect x="496.24" y="83.46" width="4.25" height="3.21" fill="#fff075"/>
<rect x="504.75" y="83.46" width="4.25" height="3.21" fill="#ffd048"/>
<rect x="296.30" y="86.67" width="4.25" height="3.21" fill="#fdfdf2"/>
<rect x="300.55" y="86.67" width="8.51" height="3.21" fill="#ffd048"/>
<rect x="309.06" y="86.67" width="8.51" height="3.21" fill="#fff075"/>
<rect x="317.57" y="86.67" width="4.25" height="3.21" fill="#ffd048"/>
<rect x="321.82" y="86.67" width="8.51" height="3.21" fill="#fff075"/>
<rect x="334.59" y="86.67" width="4.25" height="3.21" fill="#fb961a"/>
<rect x="338.84" y="86.67" width="4.25" height="3.21" fill="#fff075"/>
<rect x="351.60" y="86.67" width="4.25" height="3.21" fill="#fff075"/>
<rect x="360.11" y="86.67" width="4.25" height="3.21" fill="#ea4c0a"/>
<rect x="368.62" y="86.67" width="8.51" height="3.21" fill="#fff075"/>
<rect x="381.38" y="86.67" width="4.25" height="3.21" fill="#ffd048"/>
<rect x="385.63" y="86.67" width="4.25" height="3.21" fill="#fdfdf2"/>
<rect x="389.89" y="86.67" width="4.25" height="3.21" fill="#fff075"/>
<rect x="394.14" y="86.67" width="4.25" height="3.21" fill="#ffd048"/>
<rect x="402.65" y="86.67" width="8.51" height="3.21" fill="#fdfdf2"/>
<rect x="411.16" y="86.67" width="4.25" height="3.21" fill="#fff075"/>
<rect x="415.41" y="86.67" width="4.25" height="3.21" fill="#ea4c0a"/>
<rect x="423.92" y="86.67" width="8.51" height="3.21" fill="#fff075"/>
<rect x="436.68" y="86.67" width="4.25" height="3.21" fill="#fff075"/>
<rect x="440.94" y="86.67" width="8.51" height="3.21" fill="#ffd048"/>
<rect x="449.44" y="86.67" width="8.51" height="3.21" fill="#fff075"/>
<rect x="466.46" y="86.67" width="4.25" height="3.21" fill="#fff075"/>
<rect x="470.71" y="86.67" width="4.25" height="3.21" fill="#fdfdf2"/>
<rect x="474.97" y="86.67" width="4.25" height="3.21" fill="#ea4c0a"/>
<rect x="479.22" y="86.67" width="4.25" height="3.21" fill="#fb961a"/>
<rect x="487.73" y="86.67" width="4.25" height="3.21" fill="#fff075"/>
<rect x="491.98" y="86.67" width="4.25" height="3.21" fill="#fb961a"/>
<rect x="496.24" y="86.67" width="4.25" height="3.21" fill="#fdfdf2"/>
<rect x="500.49" y="86.67" width="4.25" height="3.21" fill="#ffd048"/>
<rect x="296.30" y="89.88" width="4.25" height="3.21" fill="#fff075"/>
<rect x="309.06" y="89.88" width="4.25" height="3.21" fill="#fff075"/>
<rect x="313.32" y="89.88" width="4.25" height="3.21" fill="#fb961a"/>
<rect x="317.57" y="89.88" width="4.25" height="3.21" fill="#ffd048"/>
<rect x="330.33" y="89.88" width="4.25" height="3.21" fill="#fff075"/>
<rect x="334.59" y="89.88" width="4.25" height="3.21" fill="#ffd048"/>
<rect x="343.09" y="89.88" width="4.25" height="3.21" fill="#fb961a"/>
<rect x="347.35" y="89.88" width="8.51" height="3.21" fill="#fff075"/>
<rect x="360.11" y="89.88" width="4.25" height="3.21" fill="#ffd048"/>
<rect x="368.62" y="89.88" width="4.25" height="3.21" fill="#ffd048"/>
<rect x="372.87" y="89.88" width="4.25" height="3.21" fill="#fff075"/>
<rect x="381.38" y="89.88" width="4.25" height="3.21" fill="#ffd048"/>
<rect x="389.89" y="89.88" width="4.25" height="3.21" fill="#ffd048"/>
<rect x="394.14" y="89.88" width="4.25" height="3.21" fill="#fff075"/>
<rect x="406.90" y="89.88" width="4.25" height="3.21" fill="#fff075"/>
<rect x="411.16" y="89.88" width="4.25" height="3.21" fill="#ffd048"/>
<rect x="419.67" y="89.88" width="8.51" height="3.21" fill="#ffd048"/>
<rect x="432.43" y="89.88" width="4.25" height="3.21" fill="#fff075"/>
<rect x="440.94" y="89.88" width="4.25" height="3.21" fill="#fdfdf2"/>
<rect x="449.44" y="89.88" width="4.25" height="3.21" fill="#fff075"/>
<rect x="453.70" y="89.88" width="4.25" height="3.21" fill="#ffd048"/>
<rect x="457.95" y="89.88" width="12.76" height="3.21" fill="#fff075"/>
<rect x="470.71" y="89.88" width="4.25" height="3.21" fill="#fdfdf2"/>
<rect x="474.97" y="89.88" width="8.51" height="3.21" fill="#fb961a"/>
<rect x="483.48" y="89.88" width="4.25" height="3.21" fill="#fff075"/>
<rect x="491.98" y="89.88" width="4.25" height="3.21" fill="#fdfdf2"/>
<rect x="500.49" y="89.88" width="4.25" height="3.21" fill="#ffd048"/>
<rect x="504.75" y="89.88" width="4.25" height="3.21" fill="#fdfdf2"/>
<rect x="296.30" y="93.08" width="4.25" height="3.21" fill="#ffd048"/>
<rect x="300.55" y="93.08" width="12.76" height="3.21" fill="#fff075"/>
<rect x="313.32" y="93.08" width="4.25" height="3.21" fill="#fb961a"/>
<rect x="317.57" y="93.08" width="4.25" height="3.21" fill="#ffd048"/>
<rect x="321.82" y="93.08" width="4.25" height="3.21" fill="#fdfdf2"/>
<rect x="326.08" y="93.08" width="4.25" height="3.21" fill="#ffd048"/>
<rect x="334.59" y="93.08" width="4.25" height="3.21" fill="#fb961a"/>
<rect x="338.84" y="93.08" width="4.25" height="3.21" fill="#fff075"/>
<rect x="347.35" y="93.08" width="4.25" height="3.21" fill="#fff075"/>
<rect x="355.86" y="93.08" width="4.25" height="3.21" fill="#fdfdf2"/>
<rect x="360.11" y="93.08" width="4.25" height="3.21" fill="#fff075"/>
<rect x="368.62" y="93.08" width="4.25" height="3.21" fill="#fff075"/>
<rect x="385.63" y="93.08" width="4.25" height="3.21" fill="#fff075"/>
<rect x="389.89" y="93.08" width="4.25" height="3.21" fill="#ffd048"/>
<rect x="394.14" y="93.08" width="4.25" height="3.21" fill="#fb961a"/>
<rect x="398.40" y="93.08" width="8.51" height="3.21" fill="#fff075"/>
<rect x="406.90" y="93.08" width="4.25" height="3.21" fill="#ffd048"/>
<rect x="415.41" y="93.08" width="4.25" height="3.21" fill="#ffd048"/>
<rect x="423.92" y="93.08" width="4.25" height="3.21" fill="#fff075"/>
<rect x="428.17" y="93.08" width="8.51" height="3.21" fill="#ffd048"/>
<rect x="436.68" y="93.08" width="4.25" height="3.21" fill="#fdfdf2"/>
<rect x="440.94" y="93.08" width="8.51" height="3.21" fill="#fb961a"/>
<rect x="449.44" y="93.08" width="8.51" height="3.21" fill="#ffd048"/>
<rect x="462.21" y="93.08" width="4.25" height="3.21" fill="#fff075"/>
<rect x="466.46" y="93.08" width="4.25" height="3.21" fill="#fb961a"/>
<rect x="470.71" y="93.08" width="4.25" height="3.21" fill="#fff075"/>
<rect x="479.22" y="93.08" width="4.25" height="3.21" fill="#fdfdf2"/>
<rect x="483.48" y="93.08" width="4.25" height="3.21" fill="#fff075"/>
<rect x="487.73" y="93.08" width="4.25" height="3.21" fill="#fb961a"/>
<rect x="491.98" y="93.08" width="4.25" height="3.21" fill="#fff075"/>
<rect x="496.24" y="93.08" width="4.25" height="3.21" fill="#fb961a"/>
<rect x="500.49" y="93.08" width="4.25" height="3.21" fill="#ffd048"/>
<rect x="300.55" y="96.29" width="21.27" height="3.21" fill="#fff075"/>
<rect x="326.08" y="96.29" width="4.25" height="3.21" fill="#fff075"/>
<rect x="330.33" y="96.29" width="4.25" height="3.21" fill="#fdfdf2"/>
<rect x="334.59" y="96.29" width="4.25" height="3.21" fill="#ffd048"/>
<rect x="351.60" y="96.29" width="4.25" height="3.21" fill="#fff075"/>
<rect x="355.86" y="96.29" width="4.25" height="3.21" fill="#fb961a"/>
<rect x="360.11" y="96.29" width="4.25" height="3.21" fill="#fff075"/>
<rect x="364.36" y="96.29" width="4.25" height="3.21" fill="#ffd048"/>
<rect x="372.87" y="96.29" width="8.51" height="3.21" fill="#fb961a"/>
<rect x="381.38" y="96.29" width="4.25" height="3.21" fill="#fff075"/>
<rect x="385.63" y="96.29" width="4.25" height="3.21" fill="#ffd048"/>
<rect x="389.89" y="96.29" width="4.25" height="3.21" fill="#fff075"/>
<rect x="398.40" y="96.29" width="8.51" height="3.21" fill="#ffd048"/>
<rect x="411.16" y="96.29" width="4.25" height="3.21" fill="#fff075"/>
<rect x="419.67" y="96.29" width="4.25" height="3.21" fill="#fff075"/>
<rect x="423.92" y="96.29" width="4.25" height="3.21" fill="#ffd048"/>
<rect x="432.43" y="96.29" width="4.25" height="3.21" fill="#fff075"/>
<rect x="440.94" y="96.29" width="4.25" height="3.21" fill="#fff075"/>
<rect x="445.19" y="96.29" width="4.25" height="3.21" fill="#fb961a"/>
<rect x="449.44" y="96.29" width="4.25" height="3.21" fill="#fff075"/>
<rect x="453.70" y="96.29" width="4.25" height="3.21" fill="#ffd048"/>
<rect x="457.95" y="96.29" width="4.25" height="3.21" fill="#ea4c0a"/>
<rect x="462.21" y="96.29" width="4.25" height="3.21" fill="#ffd048"/>
<rect x="483.48" y="96.29" width="4.25" height="3.21" fill="#ffd048"/>
<rect x="491.98" y="96.29" width="4.25" height="3.21" fill="#fff075"/>
<rect x="500.49" y="96.29" width="4.25" height="3.21" fill="#ffd048"/>
<rect x="504.75" y="96.29" width="4.25" height="3.21" fill="#fdfdf2"/>
<rect x="296.30" y="99.50" width="4.25" height="3.21" fill="#fff075"/>
<rect x="300.55" y="99.50" width="4.25" height="3.21" fill="#ffd048"/>
<rect x="304.81" y="99.50" width="4.25" height="3.21" fill="#fdfdf2"/>
<rect x="321.82" y="99.50" width="4.25" height="3.21" fill="#fff075"/>
<rect x="330.33" y="99.50" width="4.25" height="3.21" fill="#ffd048"/>
<rect x="343.09" y="99.50" width="4.25" height="3.21" fill="#fdfdf2"/>
<rect x="347.35" y="99.50" width="4.25" height="3.21" fill="#fff075"/>
<rect x="351.60" y="99.50" width="4.25" height="3.21" fill="#fb961a"/>
<rect x="355.86" y="99.50" width="4.25" height="3.21" fill="#fff075"/>
<rect x="364.36" y="99.50" width="4.25" height="3.21" fill="#fff075"/>
<rect x="368.62" y="99.50" width="4.25" height="3.21" fill="#ffd048"/>
<rect x="377.13" y="99.50" width="8.51" height="3.21" fill="#fb961a"/>
<rect x="394.14" y="99.50" width="4.25" height="3.21" fill="#ffd048"/>
<rect x="406.90" y="99.50" width="4.25" height="3.21" fill="#fff075"/>
<rect x="411.16" y="99.50" width="4.25" height="3.21" fill="#fb961a"/>
<rect x="419.67" y="99.50" width="8.51" height="3.21" fill="#fff075"/>
<rect x="428.17" y="99.50" width="4.25" height="3.21" fill="#fdfdf2"/>
<rect x="432.43" y="99.50" width="12.76" height="3.21" fill="#ffd048"/>
<rect x="445.19" y="99.50" width="4.25" height="3.21" fill="#fff075"/>
<rect x="453.70" y="99.50" width="4.25" height="3.21" fill="#ffd048"/>
<rect x="457.95" y="99.50" width="4.25" height="3.21" fill="#fdfdf2"/>
<rect x="462.21" y="99.50" width="12.76" height="3.21" fill="#ffd048"/>
<rect x="483.48" y="99.50" width="4.25" height="3.21" fill="#ffd048"/>
<rect x="487.73" y="99.50" width="4.25" height="3.21" fill="#fdfdf2"/>
<rect x="491.98" y="99.50" width="4.25" height="3.21" fill="#ffd048"/>
<rect x="496.24" y="99.50" width="4.25" height="3.21" fill="#fdfdf2"/>
<rect x="500.49" y="99.50" width="4.25" height="3.21" fill="#fff075"/>
<rect x="296.30" y="102.71" width="4.25" height="3.21" fill="#fff075"/>
<rect x="304.81" y="102.71" width="8.51" height="3.21" fill="#fb961a"/>
<rect x="317.57" y="102.71" width="4.25" height="3.21" fill="#ffd048"/>
<rect x="330.33" y="102.71" width="4.25" height="3.21" fill="#fff075"/>
<rect x="343.09" y="102.71" width="4.25" height="3.21" fill="#fb961a"/>
<rect x="351.60" y="102.71" width="4.25" height="3.21" fill="#fff075"/>
<rect x="360.11" y="102.71" width="4.25" height="3.21" fill="#fff075"/>
<rect x="372.87" y="102.71" width="4.25" height="3.21" fill="#fff075"/>
<rect x="389.89" y="102.71" width="4.25" height="3.21" fill="#fff075"/>
<rect x="398.40" y="102.71" width="4.25" height="3.21" fill="#fff075"/>
<rect x="402.65" y="102.71" width="4.25" height="3.21" fill="#ffd048"/>
<rect x="406.90" y="102.71" width="4.25" height="3.21" fill="#fff075"/>
<rect x="411.16" y="102.71" width="4.25" height="3.21" fill="#ffd048"/>
<rect x="415.41" y="102.71" width="4.25" height="3.21" fill="#fff075"/>
<rect x="432.43" y="102.71" width="4.25" height="3.21" fill="#fff075"/>
<rect x="436.68" y="102.71" width="4.25" height="3.21" fill="#fdfdf2"/>
<rect x="440.94" y="102.71" width="8.51" height="3.21" fill="#fff075"/>
<rect x="449.44" y="102.71" width="4.25" height="3.21" fill="#ffd048"/>
<rect x="453.70" y="102.71" width="4.25" height="3.21" fill="#fb961a"/>
<rect x="466.46" y="102.71" width="4.25" height="3.21" fill="#fff075"/>
<rect x="474.97" y="102.71" width="4.25" height="3.21" fill="#b01800"/>
<rect x="479.22" y="102.71" width="4.25" height="3.21" fill="#ffd048"/>
<rect x="483.48" y="102.71" width="4.25" height="3.21" fill="#fdfdf2"/>
<rect x="487.73" y="102.71" width="4.25" height="3.21" fill="#ffd048"/>
<rect x="496.24" y="102.71" width="8.51" height="3.21" fill="#fff075"/>
<rect x="296.30" y="105.91" width="4.25" height="3.21" fill="#ea4c0a"/>
<rect x="300.55" y="105.91" width="4.25" height="3.21" fill="#fff075"/>
<rect x="313.32" y="105.91" width="8.51" height="3.21" fill="#fff075"/>
<rect x="321.82" y="105.91" width="4.25" height="3.21" fill="#ffd048"/>
<rect x="334.59" y="105.91" width="4.25" height="3.21" fill="#ffd048"/>
<rect x="338.84" y="105.91" width="4.25" height="3.21" fill="#fff075"/>
<rect x="343.09" y="105.91" width="4.25" height="3.21" fill="#ffd048"/>
<rect x="347.35" y="105.91" width="4.25" height="3.21" fill="#fdfdf2"/>
<rect x="351.60" y="105.91" width="4.25" height="3.21" fill="#ffd048"/>
<rect x="355.86" y="105.91" width="4.25" height="3.21" fill="#fff075"/>
<rect x="364.36" y="105.91" width="4.25" height="3.21" fill="#fff075"/>
<rect x="368.62" y="105.91" width="4.25" height="3.21" fill="#ea4c0a"/>
<rect x="372.87" y="105.91" width="4.25" height="3.21" fill="#ffd048"/>
<rect x="377.13" y="105.91" width="4.25" height="3.21" fill="#fff075"/>
<rect x="381.38" y="105.91" width="4.25" height="3.21" fill="#fb961a"/>
<rect x="389.89" y="105.91" width="4.25" height="3.21" fill="#ffd048"/>
<rect x="398.40" y="105.91" width="4.25" height="3.21" fill="#fb961a"/>
<rect x="411.16" y="105.91" width="4.25" height="3.21" fill="#fb961a"/>
<rect x="415.41" y="105.91" width="8.51" height="3.21" fill="#ffd048"/>
<rect x="432.43" y="105.91" width="4.25" height="3.21" fill="#fff075"/>
<rect x="440.94" y="105.91" width="8.51" height="3.21" fill="#fff075"/>
<rect x="453.70" y="105.91" width="4.25" height="3.21" fill="#fb961a"/>
<rect x="457.95" y="105.91" width="4.25" height="3.21" fill="#ffd048"/>
<rect x="470.71" y="105.91" width="4.25" height="3.21" fill="#fb961a"/>
<rect x="474.97" y="105.91" width="4.25" height="3.21" fill="#ffd048"/>
<rect x="479.22" y="105.91" width="8.51" height="3.21" fill="#fff075"/>
<rect x="491.98" y="105.91" width="4.25" height="3.21" fill="#fdfdf2"/>
<rect x="496.24" y="105.91" width="4.25" height="3.21" fill="#fb961a"/>
<rect x="500.49" y="105.91" width="4.25" height="3.21" fill="#ffd048"/>
<rect x="304.81" y="109.12" width="4.25" height="3.21" fill="#fff075"/>
<rect x="317.57" y="109.12" width="4.25" height="3.21" fill="#ffd048"/>
<rect x="321.82" y="109.12" width="4.25" height="3.21" fill="#fdfdf2"/>
<rect x="326.08" y="109.12" width="4.25" height="3.21" fill="#fb961a"/>
<rect x="334.59" y="109.12" width="4.25" height="3.21" fill="#ffd048"/>
<rect x="347.35" y="109.12" width="4.25" height="3.21" fill="#fb961a"/>
<rect x="360.11" y="109.12" width="12.76" height="3.21" fill="#ffd048"/>
<rect x="372.87" y="109.12" width="4.25" height="3.21" fill="#fff075"/>
<rect x="381.38" y="109.12" width="8.51" height="3.21" fill="#ffd048"/>
<rect x="389.89" y="109.12" width="4.25" height="3.21" fill="#fb961a"/>
<rect x="411.16" y="109.12" width="4.25" height="3.21" fill="#ffd048"/>
<rect x="419.67" y="109.12" width="4.25" height="3.21" fill="#fff075"/>
<rect x="440.94" y="109.12" width="8.51" height="3.21" fill="#fb961a"/>
<rect x="449.44" y="109.12" width="4.25" height="3.21" fill="#ffd048"/>
<rect x="466.46" y="109.12" width="4.25" height="3.21" fill="#ffd048"/>
<rect x="479.22" y="109.12" width="4.25" height="3.21" fill="#ffd048"/>
<rect x="487.73" y="109.12" width="4.25" height="3.21" fill="#fff075"/>
<rect x="496.24" y="109.12" width="4.25" height="3.21" fill="#ffd048"/>
<rect x="504.75" y="109.12" width="4.25" height="3.21" fill="#fff075"/>
<rect x="304.81" y="112.33" width="4.25" height="3.21" fill="#ffd048"/>
<rect x="321.82" y="112.33" width="4.25" height="3.21" fill="#fff075"/>
<rect x="330.33" y="112.33" width="4.25" height="3.21" fill="#fff075"/>
<rect x="338.84" y="112.33" width="4.25" height="3.21" fill="#ffd048"/>
<rect x="347.35" y="112.33" width="4.25" height="3.21" fill="#fb961a"/>
<rect x="351.60" y="112.33" width="4.25" height="3.21" fill="#fdfdf2"/>
<rect x="360.11" y="112.33" width="4.25" height="3.21" fill="#fb961a"/>
<rect x="368.62" y="112.33" width="4.25" height="3.21" fill="#fb961a"/>
<rect x="402.65" y="112.33" width="4.25" height="3.21" fill="#ffd048"/>
<rect x="406.90" y="112.33" width="4.25" height="3.21" fill="#fdfdf2"/>
<rect x="419.67" y="112.33" width="4.25" height="3.21" fill="#fdfdf2"/>
<rect x="423.92" y="112.33" width="4.25" height="3.21" fill="#fff075"/>
<rect x="432.43" y="112.33" width="4.25" height="3.21" fill="#fff075"/>
<rect x="436.68" y="112.33" width="4.25" height="3.21" fill="#fdfdf2"/>
<rect x="440.94" y="112.33" width="4.25" height="3.21" fill="#fb961a"/>
<rect x="453.70" y="112.33" width="4.25" height="3.21" fill="#fdfdf2"/>
<rect x="457.95" y="112.33" width="4.25" height="3.21" fill="#fff075"/>
<rect x="470.71" y="112.33" width="4.25" height="3.21" fill="#fff075"/>
<rect x="474.97" y="112.33" width="4.25" height="3.21" fill="#fdfdf2"/>
<rect x="479.22" y="112.33" width="4.25" height="3.21" fill="#fff075"/>
<rect x="483.48" y="112.33" width="8.51" height="3.21" fill="#ffd048"/>
<rect x="491.98" y="112.33" width="4.25" height="3.21" fill="#fff075"/>
<rect x="500.49" y="112.33" width="4.25" height="3.21" fill="#ffd048"/>
<rect x="296.30" y="115.54" width="4.25" height="3.21" fill="#fff075"/>
<rect x="304.81" y="115.54" width="4.25" height="3.21" fill="#fb961a"/>
<rect x="313.32" y="115.54" width="8.51" height="3.21" fill="#fff075"/>
<rect x="326.08" y="115.54" width="4.25" height="3.21" fill="#fdfdf2"/>
<rect x="330.33" y="115.54" width="4.25" height="3.21" fill="#fff075"/>
<rect x="338.84" y="115.54" width="4.25" height="3.21" fill="#fff075"/>
<rect x="355.86" y="115.54" width="4.25" height="3.21" fill="#ffd048"/>
<rect x="360.11" y="115.54" width="8.51" height="3.21" fill="#fb961a"/>
<rect x="372.87" y="115.54" width="4.25" height="3.21" fill="#fdfdf2"/>
<rect x="381.38" y="115.54" width="4.25" height="3.21" fill="#ffd048"/>
<rect x="389.89" y="115.54" width="4.25" height="3.21" fill="#fb961a"/>
<rect x="398.40" y="115.54" width="4.25" height="3.21" fill="#fb961a"/>
<rect x="402.65" y="115.54" width="4.25" height="3.21" fill="#fff075"/>
<rect x="406.90" y="115.54" width="8.51" height="3.21" fill="#ffd048"/>
<rect x="415.41" y="115.54" width="4.25" height="3.21" fill="#fff075"/>
<rect x="423.92" y="115.54" width="4.25" height="3.21" fill="#ffd048"/>
<rect x="428.17" y="115.54" width="4.25" height="3.21" fill="#fff075"/>
<rect x="436.68" y="115.54" width="4.25" height="3.21" fill="#ffd048"/>
<rect x="440.94" y="115.54" width="4.25" height="3.21" fill="#fdfdf2"/>
<rect x="445.19" y="115.54" width="4.25" height="3.21" fill="#fff075"/>
<rect x="457.95" y="115.54" width="4.25" height="3.21" fill="#fff075"/>
<rect x="466.46" y="115.54" width="4.25" height="3.21" fill="#fff075"/>
<rect x="474.97" y="115.54" width="8.51" height="3.21" fill="#ffd048"/>
<rect x="483.48" y="115.54" width="4.25" height="3.21" fill="#fb961a"/>
<rect x="491.98" y="115.54" width="4.25" height="3.21" fill="#fb961a"/>
<rect x="500.49" y="115.54" width="4.25" height="3.21" fill="#ffd048"/>
<rect x="296.30" y="118.74" width="12.76" height="3.21" fill="#fb961a"/>
<rect x="313.32" y="118.74" width="8.51" height="3.21" fill="#ffd048"/>
<rect x="321.82" y="118.74" width="12.76" height="3.21" fill="#fff075"/>
<rect x="334.59" y="118.74" width="4.25" height="3.21" fill="#ffd048"/>
<rect x="338.84" y="118.74" width="4.25" height="3.21" fill="#fb961a"/>
<rect x="343.09" y="118.74" width="4.25" height="3.21" fill="#ffd048"/>
<rect x="360.11" y="118.74" width="4.25" height="3.21" fill="#fff075"/>
<rect x="364.36" y="118.74" width="4.25" height="3.21" fill="#ffd048"/>
<rect x="377.13" y="118.74" width="4.25" height="3.21" fill="#fff075"/>
<rect x="381.38" y="118.74" width="8.51" height="3.21" fill="#ffd048"/>
<rect x="394.14" y="118.74" width="4.25" height="3.21" fill="#fff075"/>
<rect x="402.65" y="118.74" width="4.25" height="3.21" fill="#ea4c0a"/>
<rect x="406.90" y="118.74" width="4.25" height="3.21" fill="#ffd048"/>
<rect x="415.41" y="118.74" width="4.25" height="3.21" fill="#fff075"/>
<rect x="423.92" y="118.74" width="4.25" height="3.21" fill="#fff075"/>
<rect x="428.17" y="118.74" width="4.25" height="3.21" fill="#fb961a"/>
<rect x="436.68" y="118.74" width="4.25" height="3.21" fill="#ea4c0a"/>
<rect x="445.19" y="118.74" width="4.25" height="3.21" fill="#fb961a"/>
<rect x="457.95" y="118.74" width="4.25" height="3.21" fill="#ffd048"/>
<rect x="462.21" y="118.74" width="4.25" height="3.21" fill="#fb961a"/>
<rect x="470.71" y="118.74" width="4.25" height="3.21" fill="#ffd048"/>
<rect x="474.97" y="118.74" width="4.25" height="3.21" fill="#ea4c0a"/>
<rect x="483.48" y="118.74" width="4.25" height="3.21" fill="#ea4c0a"/>
<rect x="491.98" y="118.74" width="4.25" height="3.21" fill="#ffd048"/>
<rect x="496.24" y="118.74" width="4.25" height="3.21" fill="#fb961a"/>
<rect x="500.49" y="118.74" width="4.25" height="3.21" fill="#fff075"/>
<rect x="296.30" y="121.95" width="4.25" height="3.21" fill="#fdfdf2"/>
<rect x="300.55" y="121.95" width="8.51" height="3.21" fill="#fff075"/>
<rect x="313.32" y="121.95" width="4.25" height="3.21" fill="#fdfdf2"/>
<rect x="321.82" y="121.95" width="4.25" height="3.21" fill="#fff075"/>
<rect x="330.33" y="121.95" width="4.25" height="3.21" fill="#fff075"/>
<rect x="343.09" y="121.95" width="8.51" height="3.21" fill="#fb961a"/>
<rect x="351.60" y="121.95" width="8.51" height="3.21" fill="#fff075"/>
<rect x="360.11" y="121.95" width="4.25" height="3.21" fill="#fb961a"/>
<rect x="364.36" y="121.95" width="4.25" height="3.21" fill="#fdfdf2"/>
<rect x="368.62" y="121.95" width="8.51" height="3.21" fill="#fb961a"/>
<rect x="377.13" y="121.95" width="8.51" height="3.21" fill="#ffd048"/>
<rect x="385.63" y="121.95" width="4.25" height="3.21" fill="#fdfdf2"/>
<rect x="389.89" y="121.95" width="4.25" height="3.21" fill="#fb961a"/>
<rect x="406.90" y="121.95" width="4.25" height="3.21" fill="#ffd048"/>
<rect x="415.41" y="121.95" width="4.25" height="3.21" fill="#ffd048"/>
<rect x="419.67" y="121.95" width="8.51" height="3.21" fill="#fff075"/>
<rect x="428.17" y="121.95" width="4.25" height="3.21" fill="#ffd048"/>
<rect x="432.43" y="121.95" width="4.25" height="3.21" fill="#fff075"/>
<rect x="436.68" y="121.95" width="4.25" height="3.21" fill="#fb961a"/>
<rect x="440.94" y="121.95" width="4.25" height="3.21" fill="#ffd048"/>
<rect x="453.70" y="121.95" width="4.25" height="3.21" fill="#ffd048"/>
<rect x="457.95" y="121.95" width="4.25" height="3.21" fill="#fb961a"/>
<rect x="466.46" y="121.95" width="4.25" height="3.21" fill="#ffd048"/>
<rect x="474.97" y="121.95" width="8.51" height="3.21" fill="#ffd048"/>
<rect x="483.48" y="121.95" width="4.25" height="3.21" fill="#fff075"/>
<rect x="491.98" y="121.95" width="8.51" height="3.21" fill="#ffd048"/>
<rect x="500.49" y="121.95" width="4.25" height="3.21" fill="#fff075"/>
<rect x="296.30" y="125.16" width="4.25" height="3.21" fill="#fff075"/>
<rect x="313.32" y="125.16" width="4.25" height="3.21" fill="#ffd048"/>
<rect x="317.57" y="125.16" width="4.25" height="3.21" fill="#fff075"/>
<rect x="321.82" y="125.16" width="4.25" height="3.21" fill="#ffd048"/>
<rect x="326.08" y="125.16" width="4.25" height="3.21" fill="#fdfdf2"/>
<rect x="330.33" y="125.16" width="4.25" height="3.21" fill="#fb961a"/>
<rect x="338.84" y="125.16" width="4.25" height="3.21" fill="#fdfdf2"/>
<rect x="343.09" y="125.16" width="4.25" height="3.21" fill="#fb961a"/>
<rect x="347.35" y="125.16" width="4.25" height="3.21" fill="#fff075"/>
<rect x="355.86" y="125.16" width="4.25" height="3.21" fill="#fff075"/>
<rect x="360.11" y="125.16" width="4.25" height="3.21" fill="#fb961a"/>
<rect x="368.62" y="125.16" width="4.25" height="3.21" fill="#ffd048"/>
<rect x="372.87" y="125.16" width="4.25" height="3.21" fill="#ea4c0a"/>
<rect x="377.13" y="125.16" width="8.51" height="3.21" fill="#fb961a"/>
<rect x="389.89" y="125.16" width="4.25" height="3.21" fill="#fb961a"/>
<rect x="394.14" y="125.16" width="4.25" height="3.21" fill="#fff075"/>
<rect x="402.65" y="125.16" width="4.25" height="3.21" fill="#ffd048"/>
<rect x="406.90" y="125.16" width="4.25" height="3.21" fill="#fff075"/>
<rect x="411.16" y="125.16" width="4.25" height="3.21" fill="#ffd048"/>
<rect x="415.41" y="125.16" width="4.25" height="3.21" fill="#fff075"/>
<rect x="419.67" y="125.16" width="4.25" height="3.21" fill="#ffd048"/>
<rect x="423.92" y="125.16" width="4.25" height="3.21" fill="#fff075"/>
<rect x="428.17" y="125.16" width="4.25" height="3.21" fill="#fdfdf2"/>
<rect x="432.43" y="125.16" width="4.25" height="3.21" fill="#fff075"/>
<rect x="445.19" y="125.16" width="4.25" height="3.21" fill="#ea4c0a"/>
<rect x="457.95" y="125.16" width="4.25" height="3.21" fill="#fb961a"/>
<rect x="462.21" y="125.16" width="4.25" height="3.21" fill="#fff075"/>
<rect x="466.46" y="125.16" width="4.25" height="3.21" fill="#fdfdf2"/>
<rect x="470.71" y="125.16" width="4.25" height="3.21" fill="#fff075"/>
<rect x="474.97" y="125.16" width="8.51" height="3.21" fill="#ffd048"/>
<rect x="483.48" y="125.16" width="4.25" height="3.21" fill="#fff075"/>
<rect x="487.73" y="125.16" width="4.25" height="3.21" fill="#fdfdf2"/>
<rect x="491.98" y="125.16" width="4.25" height="3.21" fill="#fff075"/>
<rect x="496.24" y="125.16" width="4.25" height="3.21" fill="#ffd048"/>
<rect x="500.49" y="125.16" width="4.25" height="3.21" fill="#fff075"/>
<rect x="504.75" y="125.16" width="4.25" height="3.21" fill="#fb961a"/>
<rect x="300.55" y="128.37" width="4.25" height="3.21" fill="#ffd048"/>
<rect x="304.81" y="128.37" width="4.25" height="3.21" fill="#fff075"/>
<rect x="309.06" y="128.37" width="4.25" height="3.21" fill="#fb961a"/>
<rect x="317.57" y="128.37" width="4.25" height="3.21" fill="#fff075"/>
<rect x="330.33" y="128.37" width="4.25" height="3.21" fill="#fff075"/>
<rect x="338.84" y="128.37" width="4.25" height="3.21" fill="#fb961a"/>
<rect x="347.35" y="128.37" width="4.25" height="3.21" fill="#fff075"/>
<rect x="351.60" y="128.37" width="4.25" height="3.21" fill="#fdfdf2"/>
<rect x="360.11" y="128.37" width="4.25" height="3.21" fill="#fff075"/>
<rect x="368.62" y="128.37" width="4.25" height="3.21" fill="#fff075"/>
<rect x="377.13" y="128.37" width="8.51" height="3.21" fill="#fdfdf2"/>
<rect x="385.63" y="128.37" width="4.25" height="3.21" fill="#fb961a"/>
<rect x="389.89" y="128.37" width="4.25" height="3.21" fill="#fdfdf2"/>
<rect x="398.40" y="128.37" width="4.25" height="3.21" fill="#fff075"/>
<rect x="402.65" y="128.37" width="4.25" height="3.21" fill="#fb961a"/>
<rect x="406.90" y="128.37" width="4.25" height="3.21" fill="#ffd048"/>
<rect x="411.16" y="128.37" width="4.25" height="3.21" fill="#fff075"/>
<rect x="415.41" y="128.37" width="4.25" height="3.21" fill="#fdfdf2"/>
<rect x="419.67" y="128.37" width="4.25" height="3.21" fill="#fb961a"/>
<rect x="428.17" y="128.37" width="4.25" height="3.21" fill="#ffd048"/>
<rect x="432.43" y="128.37" width="4.25" height="3.21" fill="#fff075"/>
<rect x="436.68" y="128.37" width="4.25" height="3.21" fill="#ffd048"/>
<rect x="449.44" y="128.37" width="4.25" height="3.21" fill="#ffd048"/>
<rect x="457.95" y="128.37" width="4.25" height="3.21" fill="#fb961a"/>
<rect x="462.21" y="128.37" width="4.25" height="3.21" fill="#fff075"/>
<rect x="466.46" y="128.37" width="8.51" height="3.21" fill="#ffd048"/>
<rect x="474.97" y="128.37" width="4.25" height="3.21" fill="#fdfdf2"/>
<rect x="479.22" y="128.37" width="4.25" height="3.21" fill="#fff075"/>
<rect x="487.73" y="128.37" width="4.25" height="3.21" fill="#ffd048"/>
<rect x="491.98" y="128.37" width="4.25" height="3.21" fill="#fff075"/>
<rect x="500.49" y="128.37" width="8.51" height="3.21" fill="#fb961a"/>
<rect x="296.30" y="131.57" width="4.25" height="3.21" fill="#ffd048"/>
<rect x="300.55" y="131.57" width="4.25" height="3.21" fill="#fff075"/>
<rect x="309.06" y="131.57" width="4.25" height="3.21" fill="#fdfdf2"/>
<rect x="321.82" y="131.57" width="4.25" height="3.21" fill="#fdfdf2"/>
<rect x="326.08" y="131.57" width="12.76" height="3.21" fill="#ffd048"/>
<rect x="347.35" y="131.57" width="4.25" height="3.21" fill="#ea4c0a"/>
<rect x="351.60" y="131.57" width="4.25" height="3.21" fill="#fff075"/>
<rect x="360.11" y="131.57" width="4.25" height="3.21" fill="#fb961a"/>
<rect x="368.62" y="131.57" width="4.25" height="3.21" fill="#fb961a"/>
<rect x="377.13" y="131.57" width="8.51" height="3.21" fill="#fff075"/>
<rect x="389.89" y="131.57" width="4.25" height="3.21" fill="#fff075"/>
<rect x="394.14" y="131.57" width="4.25" height="3.21" fill="#fdfdf2"/>
<rect x="398.40" y="131.57" width="4.25" height="3.21" fill="#fb961a"/>
<rect x="411.16" y="131.57" width="4.25" height="3.21" fill="#fdfdf2"/>
<rect x="415.41" y="131.57" width="4.25" height="3.21" fill="#ffd048"/>
<rect x="419.67" y="131.57" width="4.25" height="3.21" fill="#fb961a"/>
<rect x="423.92" y="131.57" width="8.51" height="3.21" fill="#fff075"/>
<rect x="432.43" y="131.57" width="4.25" height="3.21" fill="#fdfdf2"/>
<rect x="440.94" y="131.57" width="4.25" height="3.21" fill="#fff075"/>
<rect x="445.19" y="131.57" width="4.25" height="3.21" fill="#fb961a"/>
<rect x="449.44" y="131.57" width="4.25" height="3.21" fill="#fdfdf2"/>
<rect x="457.95" y="131.57" width="8.51" height="3.21" fill="#fff075"/>
<rect x="470.71" y="131.57" width="4.25" height="3.21" fill="#ffd048"/>
<rect x="479.22" y="131.57" width="4.25" height="3.21" fill="#ffd048"/>
<rect x="491.98" y="131.57" width="8.51" height="3.21" fill="#fb961a"/>
<rect x="504.75" y="131.57" width="4.25" height="3.21" fill="#fff075"/>
<rect x="296.30" y="134.78" width="8.51" height="3.21" fill="#fff075"/>
<rect x="304.81" y="134.78" width="8.51" height="3.21" fill="#fb961a"/>
<rect x="313.32" y="134.78" width="4.25" height="3.21" fill="#ffd048"/>
<rect x="317.57" y="134.78" width="4.25" height="3.21" fill="#fdfdf2"/>
<rect x="321.82" y="134.78" width="4.25" height="3.21" fill="#ffd048"/>
<rect x="326.08" y="134.78" width="4.25" height="3.21" fill="#fff075"/>
<rect x="330.33" y="134.78" width="4.25" height="3.21" fill="#ea4c0a"/>
<rect x="334.59" y="134.78" width="8.51" height="3.21" fill="#fb961a"/>
<rect x="347.35" y="134.78" width="4.25" height="3.21" fill="#ffd048"/>
<rect x="355.86" y="134.78" width="4.25" height="3.21" fill="#ffd048"/>
<rect x="360.11" y="134.78" width="4.25" height="3.21" fill="#fb961a"/>
<rect x="368.62" y="134.78" width="4.25" height="3.21" fill="#ffd048"/>
<rect x="381.38" y="134.78" width="4.25" height="3.21" fill="#ffd048"/>
<rect x="389.89" y="134.78" width="4.25" height="3.21" fill="#ea4c0a"/>
<rect x="402.65" y="134.78" width="4.25" height="3.21" fill="#fff075"/>
<rect x="415.41" y="134.78" width="4.25" height="3.21" fill="#fb961a"/>
<rect x="423.92" y="134.78" width="4.25" height="3.21" fill="#fff075"/>
<rect x="428.17" y="134.78" width="4.25" height="3.21" fill="#ffd048"/>
<rect x="436.68" y="134.78" width="4.25" height="3.21" fill="#fdfdf2"/>
<rect x="440.94" y="134.78" width="4.25" height="3.21" fill="#fb961a"/>
<rect x="457.95" y="134.78" width="8.51" height="3.21" fill="#fff075"/>
<rect x="466.46" y="134.78" width="4.25" height="3.21" fill="#fdfdf2"/>
<rect x="474.97" y="134.78" width="8.51" height="3.21" fill="#fff075"/>
<rect x="483.48" y="134.78" width="4.25" height="3.21" fill="#fb961a"/>
<rect x="487.73" y="134.78" width="4.25" height="3.21" fill="#fff075"/>
<rect x="496.24" y="134.78" width="8.51" height="3.21" fill="#fff075"/>
<rect x="296.30" y="137.99" width="4.25" height="3.21" fill="#fff075"/>
<rect x="313.32" y="137.99" width="4.25" height="3.21" fill="#fff075"/>
<rect x="321.82" y="137.99" width="4.25" height="3.21" fill="#fff075"/>
<rect x="326.08" y="137.99" width="8.51" height="3.21" fill="#ffd048"/>
<rect x="343.09" y="137.99" width="4.25" height="3.21" fill="#fff075"/>
<rect x="355.86" y="137.99" width="4.25" height="3.21" fill="#fff075"/>
<rect x="364.36" y="137.99" width="4.25" height="3.21" fill="#fff075"/>
<rect x="372.87" y="137.99" width="4.25" height="3.21" fill="#ffd048"/>
<rect x="381.38" y="137.99" width="4.25" height="3.21" fill="#fff075"/>
<rect x="385.63" y="137.99" width="4.25" height="3.21" fill="#fb961a"/>
<rect x="398.40" y="137.99" width="4.25" height="3.21" fill="#fb961a"/>
<rect x="411.16" y="137.99" width="4.25" height="3.21" fill="#fff075"/>
<rect x="415.41" y="137.99" width="4.25" height="3.21" fill="#ffd048"/>
<rect x="423.92" y="137.99" width="8.51" height="3.21" fill="#fb961a"/>
<rect x="436.68" y="137.99" width="4.25" height="3.21" fill="#fb961a"/>
<rect x="440.94" y="137.99" width="4.25" height="3.21" fill="#ffd048"/>
<rect x="449.44" y="137.99" width="4.25" height="3.21" fill="#ea4c0a"/>
<rect x="457.95" y="137.99" width="8.51" height="3.21" fill="#fff075"/>
<rect x="479.22" y="137.99" width="4.25" height="3.21" fill="#ffd048"/>
<rect x="487.73" y="137.99" width="4.25" height="3.21" fill="#ffd048"/>
<rect x="496.24" y="137.99" width="8.51" height="3.21" fill="#ea4c0a"/>
</g>
<g stroke="#e4e4e4" stroke-width="1.0" opacity="0.33"><line x1="84.74" y1="14.5" x2="84.74" y2="142.8"/><line x1="127.18" y1="14.5" x2="127.18" y2="142.8"/><line x1="169.62" y1="14.5" x2="169.62" y2="142.8"/><line x1="212.06" y1="14.5" x2="212.06" y2="142.8"/><line x1="42.3" y1="110.73" x2="254.5" y2="110.73"/><line x1="42.3" y1="78.65" x2="83.89" y2="78.65"/><line x1="118.69" y1="78.65" x2="254.5" y2="78.65"/><line x1="42.3" y1="46.58" x2="254.5" y2="46.58"/></g>
<g stroke="#ececec" stroke-width="1.0" opacity="0.5"><line x1="338.84" y1="14.5" x2="338.84" y2="142.8"/><line x1="381.38" y1="14.5" x2="381.38" y2="142.8"/><line x1="423.92" y1="14.5" x2="423.92" y2="142.8"/><line x1="466.46" y1="14.5" x2="466.46" y2="142.8"/><line x1="296.3" y1="110.73" x2="509.0" y2="110.73"/><line x1="296.3" y1="46.58" x2="509.0" y2="46.58"/></g>
<rect x="42.3" y="14.5" width="212.20" height="128.30" fill="none" stroke="#858585" stroke-width="1"/>
<g stroke="#444444" stroke-width="0.8"><line x1="42.30" y1="143.3" x2="42.30" y2="145.0"/><line x1="84.74" y1="143.3" x2="84.74" y2="145.0"/><line x1="127.18" y1="143.3" x2="127.18" y2="145.0"/><line x1="169.62" y1="143.3" x2="169.62" y2="145.0"/><line x1="212.06" y1="143.3" x2="212.06" y2="145.0"/><line x1="254.50" y1="143.3" x2="254.50" y2="145.0"/><line x1="40.099999999999994" y1="142.80" x2="41.8" y2="142.80"/><line x1="40.099999999999994" y1="110.73" x2="41.8" y2="110.73"/><line x1="40.099999999999994" y1="78.65" x2="41.8" y2="78.65"/><line x1="40.099999999999994" y1="46.58" x2="41.8" y2="46.58"/><line x1="40.099999999999994" y1="14.50" x2="41.8" y2="14.50"/></g>
<text x="42.30" y="153.60" font-size="9.2" text-anchor="middle">−5</text>
<text x="84.74" y="153.60" font-size="9.2" text-anchor="middle">0</text>
<text x="127.18" y="153.60" font-size="9.2" text-anchor="middle">5</text>
<text x="169.62" y="153.60" font-size="9.2" text-anchor="middle">10</text>
<text x="212.06" y="153.60" font-size="9.2" text-anchor="middle">15</text>
<text x="254.50" y="153.60" font-size="9.2" text-anchor="middle">20</text>
<text x="38.50" y="146.00" font-size="9.2" text-anchor="end">−10</text>
<text x="38.50" y="113.93" font-size="9.2" text-anchor="end">−5</text>
<text x="38.50" y="81.85" font-size="9.2" text-anchor="end">0</text>
<text x="38.50" y="49.78" font-size="9.2" text-anchor="end">5</text>
<text x="38.50" y="17.70" font-size="9.2" text-anchor="end">10</text>
<rect x="296.3" y="14.5" width="212.70" height="128.30" fill="none" stroke="#858585" stroke-width="1"/>
<g stroke="#444444" stroke-width="0.8"><line x1="296.30" y1="143.3" x2="296.30" y2="145.0"/><line x1="338.84" y1="143.3" x2="338.84" y2="145.0"/><line x1="381.38" y1="143.3" x2="381.38" y2="145.0"/><line x1="423.92" y1="143.3" x2="423.92" y2="145.0"/><line x1="466.46" y1="143.3" x2="466.46" y2="145.0"/><line x1="509.00" y1="143.3" x2="509.00" y2="145.0"/><line x1="294.1" y1="142.80" x2="295.8" y2="142.80"/><line x1="294.1" y1="110.73" x2="295.8" y2="110.73"/><line x1="294.1" y1="78.65" x2="295.8" y2="78.65"/><line x1="294.1" y1="46.58" x2="295.8" y2="46.58"/><line x1="294.1" y1="14.50" x2="295.8" y2="14.50"/></g>
<text x="296.30" y="153.60" font-size="9.2" text-anchor="middle">−5</text>
<text x="338.84" y="153.60" font-size="9.2" text-anchor="middle">0</text>
<text x="381.38" y="153.60" font-size="9.2" text-anchor="middle">5</text>
<text x="423.92" y="153.60" font-size="9.2" text-anchor="middle">10</text>
<text x="466.46" y="153.60" font-size="9.2" text-anchor="middle">15</text>
<text x="509.00" y="153.60" font-size="9.2" text-anchor="middle">20</text>
<text x="292.50" y="146.00" font-size="9.2" text-anchor="end">−10</text>
<text x="292.50" y="113.93" font-size="9.2" text-anchor="end">−5</text>
<text x="292.50" y="81.85" font-size="9.2" text-anchor="end">0</text>
<text x="292.50" y="49.78" font-size="9.2" text-anchor="end">5</text>
<text x="292.50" y="17.70" font-size="9.2" text-anchor="end">10</text>
<g stroke="#d9d9d9" stroke-width="1.0" opacity="1"><line x1="78.52" y1="168.5" x2="78.52" y2="296.6"/><line x1="132.82" y1="168.5" x2="132.82" y2="296.6"/><line x1="187.12" y1="168.5" x2="187.12" y2="296.6"/><line x1="241.41" y1="168.5" x2="241.41" y2="296.6"/><line x1="42.3" y1="275.25" x2="254.5" y2="275.25"/><line x1="42.3" y1="253.90" x2="254.5" y2="253.90"/><line x1="42.3" y1="232.55" x2="254.5" y2="232.55"/><line x1="42.3" y1="211.20" x2="254.5" y2="211.20"/><line x1="42.3" y1="189.85" x2="254.5" y2="189.85"/></g>
<g stroke="#d9d9d9" stroke-width="1.0" opacity="1"><line x1="313.48" y1="168.5" x2="313.48" y2="296.6"/><line x1="370.39" y1="168.5" x2="370.39" y2="296.6"/><line x1="427.29" y1="168.5" x2="427.29" y2="296.6"/><line x1="484.19" y1="168.5" x2="484.19" y2="296.6"/><line x1="296.3" y1="275.25" x2="509.0" y2="275.25"/><line x1="296.3" y1="253.90" x2="509.0" y2="253.90"/><line x1="296.3" y1="232.55" x2="509.0" y2="232.55"/><line x1="296.3" y1="211.20" x2="509.0" y2="211.20"/><line x1="296.3" y1="189.85" x2="509.0" y2="189.85"/></g>
<g fill="#1070c8"><circle cx="129.5" cy="296.6" r="1.3"/><circle cx="134.8" cy="296.1" r="1.3"/><circle cx="143.2" cy="294.5" r="1.3"/><circle cx="112.5" cy="293.9" r="1.3"/><circle cx="120.8" cy="293.4" r="1.3"/><circle cx="145.9" cy="292.9" r="1.3"/><circle cx="118.1" cy="292.3" r="1.3"/><circle cx="126.3" cy="291.8" r="1.3"/><circle cx="153.4" cy="291.3" r="1.3"/><circle cx="153.2" cy="290.7" r="1.3"/><circle cx="117.3" cy="288.1" r="1.3"/><circle cx="126.4" cy="287.5" r="1.3"/><circle cx="108.8" cy="287.0" r="1.3"/><circle cx="124.5" cy="286.5" r="1.3"/><circle cx="144.3" cy="285.9" r="1.3"/><circle cx="129.7" cy="285.4" r="1.3"/><circle cx="160.5" cy="284.9" r="1.3"/><circle cx="129.1" cy="284.3" r="1.3"/><circle cx="117.4" cy="283.8" r="1.3"/><circle cx="132.4" cy="283.3" r="1.3"/><circle cx="129.4" cy="281.7" r="1.3"/><circle cx="115.5" cy="280.1" r="1.3"/><circle cx="129.6" cy="279.5" r="1.3"/><circle cx="137.8" cy="279.0" r="1.3"/><circle cx="94.9" cy="278.5" r="1.3"/><circle cx="126.9" cy="277.9" r="1.3"/><circle cx="134.2" cy="276.3" r="1.3"/><circle cx="164.9" cy="275.8" r="1.3"/><circle cx="99.0" cy="275.2" r="1.3"/><circle cx="138.2" cy="274.7" r="1.3"/><circle cx="144.0" cy="274.2" r="1.3"/><circle cx="161.7" cy="273.6" r="1.3"/><circle cx="93.7" cy="273.1" r="1.3"/><circle cx="111.9" cy="272.6" r="1.3"/><circle cx="136.4" cy="272.0" r="1.3"/><circle cx="165.7" cy="271.5" r="1.3"/><circle cx="120.0" cy="271.0" r="1.3"/><circle cx="139.8" cy="270.4" r="1.3"/><circle cx="114.3" cy="269.9" r="1.3"/><circle cx="146.1" cy="268.3" r="1.3"/><circle cx="119.3" cy="267.8" r="1.3"/><circle cx="143.9" cy="267.2" r="1.3"/><circle cx="100.1" cy="266.7" r="1.3"/><circle cx="147.0" cy="266.2" r="1.3"/><circle cx="166.1" cy="265.6" r="1.3"/><circle cx="125.0" cy="265.1" r="1.3"/><circle cx="148.5" cy="264.6" r="1.3"/><circle cx="137.0" cy="264.0" r="1.3"/><circle cx="127.4" cy="263.5" r="1.3"/><circle cx="144.3" cy="263.0" r="1.3"/><circle cx="148.7" cy="262.4" r="1.3"/><circle cx="117.4" cy="261.9" r="1.3"/><circle cx="129.0" cy="261.4" r="1.3"/><circle cx="129.0" cy="260.8" r="1.3"/><circle cx="140.5" cy="260.3" r="1.3"/><circle cx="130.2" cy="259.8" r="1.3"/><circle cx="122.2" cy="258.2" r="1.3"/><circle cx="130.7" cy="256.6" r="1.3"/><circle cx="144.1" cy="256.0" r="1.3"/><circle cx="105.2" cy="255.5" r="1.3"/><circle cx="163.0" cy="255.0" r="1.3"/><circle cx="135.0" cy="254.4" r="1.3"/><circle cx="101.8" cy="253.9" r="1.3"/><circle cx="168.1" cy="253.4" r="1.3"/><circle cx="147.2" cy="252.8" r="1.3"/><circle cx="115.7" cy="252.3" r="1.3"/><circle cx="165.9" cy="251.8" r="1.3"/><circle cx="164.8" cy="251.2" r="1.3"/><circle cx="146.7" cy="250.7" r="1.3"/><circle cx="121.8" cy="249.1" r="1.3"/><circle cx="100.0" cy="248.6" r="1.3"/><circle cx="147.1" cy="248.0" r="1.3"/><circle cx="140.7" cy="247.5" r="1.3"/><circle cx="152.1" cy="247.0" r="1.3"/><circle cx="128.8" cy="245.4" r="1.3"/><circle cx="144.4" cy="244.8" r="1.3"/><circle cx="152.0" cy="243.2" r="1.3"/><circle cx="100.8" cy="241.6" r="1.3"/><circle cx="125.2" cy="241.1" r="1.3"/><circle cx="135.0" cy="240.6" r="1.3"/><circle cx="132.9" cy="240.0" r="1.3"/><circle cx="115.5" cy="239.5" r="1.3"/><circle cx="133.2" cy="237.9" r="1.3"/><circle cx="94.9" cy="236.3" r="1.3"/><circle cx="102.4" cy="235.8" r="1.3"/><circle cx="159.4" cy="235.2" r="1.3"/><circle cx="151.1" cy="234.7" r="1.3"/><circle cx="92.9" cy="234.2" r="1.3"/><circle cx="159.5" cy="233.6" r="1.3"/><circle cx="159.9" cy="233.1" r="1.3"/><circle cx="124.9" cy="232.6" r="1.3"/><circle cx="135.2" cy="232.0" r="1.3"/><circle cx="156.8" cy="231.5" r="1.3"/><circle cx="137.0" cy="230.9" r="1.3"/><circle cx="119.4" cy="230.4" r="1.3"/><circle cx="143.3" cy="229.9" r="1.3"/><circle cx="118.8" cy="225.1" r="1.3"/><circle cx="103.1" cy="224.5" r="1.3"/><circle cx="133.0" cy="221.3" r="1.3"/><circle cx="160.9" cy="218.7" r="1.3"/><circle cx="124.2" cy="217.1" r="1.3"/><circle cx="110.3" cy="216.5" r="1.3"/><circle cx="160.3" cy="216.0" r="1.3"/><circle cx="145.3" cy="215.5" r="1.3"/><circle cx="145.6" cy="212.8" r="1.3"/><circle cx="168.4" cy="212.3" r="1.3"/><circle cx="137.2" cy="211.7" r="1.3"/><circle cx="146.8" cy="211.2" r="1.3"/><circle cx="151.9" cy="210.7" r="1.3"/><circle cx="117.8" cy="210.1" r="1.3"/><circle cx="123.9" cy="209.6" r="1.3"/><circle cx="165.4" cy="209.1" r="1.3"/><circle cx="118.7" cy="206.9" r="1.3"/><circle cx="94.9" cy="206.4" r="1.3"/><circle cx="139.1" cy="205.9" r="1.3"/><circle cx="112.7" cy="205.3" r="1.3"/><circle cx="109.7" cy="204.8" r="1.3"/><circle cx="144.3" cy="204.3" r="1.3"/><circle cx="97.5" cy="203.7" r="1.3"/><circle cx="129.1" cy="203.2" r="1.3"/><circle cx="125.8" cy="202.7" r="1.3"/><circle cx="125.4" cy="202.1" r="1.3"/><circle cx="103.4" cy="201.6" r="1.3"/><circle cx="163.7" cy="201.1" r="1.3"/><circle cx="142.7" cy="200.5" r="1.3"/><circle cx="122.0" cy="200.0" r="1.3"/><circle cx="107.5" cy="199.5" r="1.3"/><circle cx="112.6" cy="198.9" r="1.3"/><circle cx="139.5" cy="197.3" r="1.3"/><circle cx="130.3" cy="196.8" r="1.3"/><circle cx="101.8" cy="196.3" r="1.3"/><circle cx="132.2" cy="195.7" r="1.3"/><circle cx="139.4" cy="195.2" r="1.3"/><circle cx="98.4" cy="194.7" r="1.3"/><circle cx="115.8" cy="194.1" r="1.3"/><circle cx="98.8" cy="193.6" r="1.3"/><circle cx="139.0" cy="193.1" r="1.3"/><circle cx="130.1" cy="192.5" r="1.3"/><circle cx="118.8" cy="192.0" r="1.3"/><circle cx="122.3" cy="191.5" r="1.3"/><circle cx="119.1" cy="190.9" r="1.3"/><circle cx="143.2" cy="190.4" r="1.3"/><circle cx="98.7" cy="189.8" r="1.3"/><circle cx="124.7" cy="189.3" r="1.3"/><circle cx="153.3" cy="188.8" r="1.3"/><circle cx="143.3" cy="188.2" r="1.3"/><circle cx="134.5" cy="187.7" r="1.3"/><circle cx="125.2" cy="187.2" r="1.3"/><circle cx="137.0" cy="185.6" r="1.3"/><circle cx="143.2" cy="185.0" r="1.3"/><circle cx="140.9" cy="184.5" r="1.3"/><circle cx="114.8" cy="184.0" r="1.3"/><circle cx="128.8" cy="183.4" r="1.3"/><circle cx="134.9" cy="181.8" r="1.3"/><circle cx="157.5" cy="181.3" r="1.3"/><circle cx="154.2" cy="180.8" r="1.3"/><circle cx="139.2" cy="180.2" r="1.3"/><circle cx="108.9" cy="179.7" r="1.3"/><circle cx="129.5" cy="179.2" r="1.3"/><circle cx="139.9" cy="178.6" r="1.3"/><circle cx="145.3" cy="178.1" r="1.3"/><circle cx="141.8" cy="175.4" r="1.3"/><circle cx="142.4" cy="173.8" r="1.3"/><circle cx="166.8" cy="173.3" r="1.3"/><circle cx="121.4" cy="172.8" r="1.3"/><circle cx="160.7" cy="172.2" r="1.3"/><circle cx="150.9" cy="171.7" r="1.3"/><circle cx="95.0" cy="171.2" r="1.3"/><circle cx="120.7" cy="170.6" r="1.3"/><circle cx="104.9" cy="169.0" r="1.3"/><circle cx="150.5" cy="168.5" r="1.3"/><circle cx="71.0" cy="182.7" r="1.3"/><circle cx="91.4" cy="186.5" r="1.3"/><circle cx="64.1" cy="198.0" r="1.3"/><circle cx="75.5" cy="208.0" r="1.3"/><circle cx="75.6" cy="214.9" r="1.3"/><circle cx="67.2" cy="223.9" r="1.3"/><circle cx="86.0" cy="222.0" r="1.3"/><circle cx="76.0" cy="229.1" r="1.3"/><circle cx="87.2" cy="249.8" r="1.3"/><circle cx="90.3" cy="243.8" r="1.3"/><circle cx="91.7" cy="242.5" r="1.3"/><circle cx="89.1" cy="259.2" r="1.3"/><circle cx="89.8" cy="269.3" r="1.3"/><circle cx="81.8" cy="277.0" r="1.3"/><circle cx="90.3" cy="280.9" r="1.3"/><circle cx="81.8" cy="290.1" r="1.3"/><circle cx="84.6" cy="295.1" r="1.3"/><circle cx="201.2" cy="169.9" r="1.3"/><circle cx="203.6" cy="174.6" r="1.3"/><circle cx="191.9" cy="176.2" r="1.3"/><circle cx="178.6" cy="177.3" r="1.3"/><circle cx="176.6" cy="213.6" r="1.3"/><circle cx="179.4" cy="219.4" r="1.3"/><circle cx="183.3" cy="220.7" r="1.3"/><circle cx="186.8" cy="218.0" r="1.3"/><circle cx="174.8" cy="222.7" r="1.3"/><circle cx="187.3" cy="223.1" r="1.3"/><circle cx="176.3" cy="227.8" r="1.3"/><circle cx="180.5" cy="226.8" r="1.3"/><circle cx="192.8" cy="226.1" r="1.3"/><circle cx="180.2" cy="237.3" r="1.3"/><circle cx="186.7" cy="238.9" r="1.3"/><circle cx="200.5" cy="246.0" r="1.3"/><circle cx="195.1" cy="257.4" r="1.3"/><circle cx="185.3" cy="282.3" r="1.3"/><circle cx="218.3" cy="289.1" r="1.3"/></g>
<g fill="#ff7008"><circle cx="135.5" cy="296.6" r="1.3"/><circle cx="117.5" cy="296.1" r="1.3"/><circle cx="97.4" cy="295.5" r="1.3"/><circle cx="125.7" cy="295.0" r="1.3"/><circle cx="136.0" cy="291.8" r="1.3"/><circle cx="116.9" cy="291.3" r="1.3"/><circle cx="127.6" cy="290.7" r="1.3"/><circle cx="135.9" cy="290.2" r="1.3"/><circle cx="104.3" cy="289.7" r="1.3"/><circle cx="102.6" cy="289.1" r="1.3"/><circle cx="172.6" cy="288.6" r="1.3"/><circle cx="130.1" cy="288.1" r="1.3"/><circle cx="128.6" cy="285.9" r="1.3"/><circle cx="124.7" cy="285.4" r="1.3"/><circle cx="134.4" cy="284.9" r="1.3"/><circle cx="114.0" cy="284.3" r="1.3"/><circle cx="157.5" cy="283.8" r="1.3"/><circle cx="157.7" cy="283.3" r="1.3"/><circle cx="145.1" cy="281.7" r="1.3"/><circle cx="137.4" cy="281.1" r="1.3"/><circle cx="144.5" cy="280.6" r="1.3"/><circle cx="129.2" cy="280.1" r="1.3"/><circle cx="162.4" cy="278.5" r="1.3"/><circle cx="126.0" cy="277.9" r="1.3"/><circle cx="150.5" cy="277.4" r="1.3"/><circle cx="159.1" cy="276.9" r="1.3"/><circle cx="151.0" cy="276.3" r="1.3"/><circle cx="150.7" cy="275.8" r="1.3"/><circle cx="139.7" cy="275.2" r="1.3"/><circle cx="140.6" cy="274.7" r="1.3"/><circle cx="151.8" cy="274.2" r="1.3"/><circle cx="163.6" cy="273.6" r="1.3"/><circle cx="137.3" cy="273.1" r="1.3"/><circle cx="129.2" cy="272.6" r="1.3"/><circle cx="160.7" cy="272.0" r="1.3"/><circle cx="112.6" cy="271.5" r="1.3"/><circle cx="168.0" cy="271.0" r="1.3"/><circle cx="116.5" cy="269.4" r="1.3"/><circle cx="156.6" cy="268.8" r="1.3"/><circle cx="169.9" cy="265.6" r="1.3"/><circle cx="135.5" cy="265.1" r="1.3"/><circle cx="129.1" cy="264.6" r="1.3"/><circle cx="148.9" cy="264.0" r="1.3"/><circle cx="136.8" cy="262.4" r="1.3"/><circle cx="98.2" cy="261.9" r="1.3"/><circle cx="148.1" cy="261.4" r="1.3"/><circle cx="147.6" cy="260.8" r="1.3"/><circle cx="139.6" cy="260.3" r="1.3"/><circle cx="136.8" cy="259.8" r="1.3"/><circle cx="158.6" cy="258.2" r="1.3"/><circle cx="117.8" cy="256.6" r="1.3"/><circle cx="95.7" cy="256.0" r="1.3"/><circle cx="96.4" cy="252.8" r="1.3"/><circle cx="117.8" cy="252.3" r="1.3"/><circle cx="172.6" cy="251.8" r="1.3"/><circle cx="138.0" cy="251.2" r="1.3"/><circle cx="137.0" cy="250.7" r="1.3"/><circle cx="102.0" cy="250.2" r="1.3"/><circle cx="114.3" cy="249.6" r="1.3"/><circle cx="153.0" cy="249.1" r="1.3"/><circle cx="121.5" cy="248.6" r="1.3"/><circle cx="106.8" cy="248.0" r="1.3"/><circle cx="148.6" cy="247.5" r="1.3"/><circle cx="146.0" cy="247.0" r="1.3"/><circle cx="121.2" cy="246.4" r="1.3"/><circle cx="165.9" cy="245.9" r="1.3"/><circle cx="153.6" cy="245.4" r="1.3"/><circle cx="171.4" cy="243.2" r="1.3"/><circle cx="159.1" cy="242.7" r="1.3"/><circle cx="127.8" cy="242.2" r="1.3"/><circle cx="97.9" cy="241.6" r="1.3"/><circle cx="116.3" cy="241.1" r="1.3"/><circle cx="144.2" cy="239.5" r="1.3"/><circle cx="96.3" cy="239.0" r="1.3"/><circle cx="128.3" cy="238.4" r="1.3"/><circle cx="142.4" cy="237.9" r="1.3"/><circle cx="166.4" cy="235.2" r="1.3"/><circle cx="108.0" cy="234.7" r="1.3"/><circle cx="144.2" cy="233.1" r="1.3"/><circle cx="169.1" cy="230.9" r="1.3"/><circle cx="159.7" cy="230.4" r="1.3"/><circle cx="137.6" cy="229.9" r="1.3"/><circle cx="140.3" cy="229.3" r="1.3"/><circle cx="166.8" cy="228.8" r="1.3"/><circle cx="132.8" cy="228.3" r="1.3"/><circle cx="144.8" cy="226.7" r="1.3"/><circle cx="138.4" cy="226.1" r="1.3"/><circle cx="112.9" cy="225.6" r="1.3"/><circle cx="128.2" cy="224.0" r="1.3"/><circle cx="131.0" cy="223.5" r="1.3"/><circle cx="114.2" cy="222.9" r="1.3"/><circle cx="138.1" cy="222.4" r="1.3"/><circle cx="109.2" cy="221.9" r="1.3"/><circle cx="158.6" cy="220.3" r="1.3"/><circle cx="159.7" cy="219.7" r="1.3"/><circle cx="125.1" cy="219.2" r="1.3"/><circle cx="153.7" cy="218.7" r="1.3"/><circle cx="139.5" cy="218.1" r="1.3"/><circle cx="159.1" cy="217.6" r="1.3"/><circle cx="121.4" cy="217.1" r="1.3"/><circle cx="107.8" cy="216.5" r="1.3"/><circle cx="106.3" cy="216.0" r="1.3"/><circle cx="98.0" cy="215.5" r="1.3"/><circle cx="145.9" cy="214.9" r="1.3"/><circle cx="100.0" cy="214.4" r="1.3"/><circle cx="164.8" cy="213.9" r="1.3"/><circle cx="130.9" cy="213.3" r="1.3"/><circle cx="94.1" cy="212.8" r="1.3"/><circle cx="123.6" cy="212.3" r="1.3"/><circle cx="125.2" cy="211.7" r="1.3"/><circle cx="146.6" cy="211.2" r="1.3"/><circle cx="124.9" cy="210.7" r="1.3"/><circle cx="95.5" cy="209.1" r="1.3"/><circle cx="152.7" cy="208.5" r="1.3"/><circle cx="127.3" cy="208.0" r="1.3"/><circle cx="130.4" cy="207.5" r="1.3"/><circle cx="156.3" cy="205.9" r="1.3"/><circle cx="109.7" cy="205.3" r="1.3"/><circle cx="146.9" cy="204.8" r="1.3"/><circle cx="155.4" cy="204.3" r="1.3"/><circle cx="147.7" cy="203.7" r="1.3"/><circle cx="105.0" cy="202.1" r="1.3"/><circle cx="98.1" cy="201.6" r="1.3"/><circle cx="137.6" cy="200.0" r="1.3"/><circle cx="170.3" cy="199.5" r="1.3"/><circle cx="132.9" cy="198.9" r="1.3"/><circle cx="117.0" cy="198.4" r="1.3"/><circle cx="148.8" cy="197.9" r="1.3"/><circle cx="134.3" cy="197.3" r="1.3"/><circle cx="106.9" cy="196.8" r="1.3"/><circle cx="115.0" cy="196.3" r="1.3"/><circle cx="148.1" cy="195.7" r="1.3"/><circle cx="116.3" cy="195.2" r="1.3"/><circle cx="115.8" cy="194.7" r="1.3"/><circle cx="152.6" cy="194.1" r="1.3"/><circle cx="137.8" cy="193.6" r="1.3"/><circle cx="108.6" cy="193.1" r="1.3"/><circle cx="115.1" cy="191.5" r="1.3"/><circle cx="117.3" cy="190.9" r="1.3"/><circle cx="155.0" cy="190.4" r="1.3"/><circle cx="163.0" cy="189.8" r="1.3"/><circle cx="168.0" cy="189.3" r="1.3"/><circle cx="103.6" cy="187.7" r="1.3"/><circle cx="162.4" cy="187.2" r="1.3"/><circle cx="108.7" cy="185.6" r="1.3"/><circle cx="137.0" cy="183.4" r="1.3"/><circle cx="119.0" cy="182.9" r="1.3"/><circle cx="128.9" cy="182.4" r="1.3"/><circle cx="134.0" cy="181.8" r="1.3"/><circle cx="133.4" cy="181.3" r="1.3"/><circle cx="113.2" cy="180.8" r="1.3"/><circle cx="152.0" cy="180.2" r="1.3"/><circle cx="130.0" cy="178.6" r="1.3"/><circle cx="101.3" cy="178.1" r="1.3"/><circle cx="131.2" cy="177.6" r="1.3"/><circle cx="149.9" cy="173.8" r="1.3"/><circle cx="100.5" cy="173.3" r="1.3"/><circle cx="150.3" cy="172.8" r="1.3"/><circle cx="116.6" cy="172.2" r="1.3"/><circle cx="147.1" cy="171.7" r="1.3"/><circle cx="142.8" cy="171.2" r="1.3"/><circle cx="173.6" cy="170.6" r="1.3"/><circle cx="145.0" cy="170.1" r="1.3"/><circle cx="115.0" cy="169.6" r="1.3"/><circle cx="135.5" cy="169.0" r="1.3"/><circle cx="119.0" cy="168.5" r="1.3"/><circle cx="69.0" cy="179.3" r="1.3"/><circle cx="67.8" cy="184.5" r="1.3"/><circle cx="91.1" cy="176.5" r="1.3"/><circle cx="82.4" cy="188.4" r="1.3"/><circle cx="86.4" cy="186.5" r="1.3"/><circle cx="90.8" cy="203.0" r="1.3"/><circle cx="82.9" cy="210.0" r="1.3"/><circle cx="67.3" cy="221.1" r="1.3"/><circle cx="87.5" cy="224.8" r="1.3"/><circle cx="80.6" cy="244.6" r="1.3"/><circle cx="69.0" cy="253.6" r="1.3"/><circle cx="73.6" cy="257.5" r="1.3"/><circle cx="90.6" cy="258.8" r="1.3"/><circle cx="80.6" cy="267.0" r="1.3"/><circle cx="76.9" cy="279.3" r="1.3"/><circle cx="91.4" cy="282.4" r="1.3"/><circle cx="77.2" cy="293.2" r="1.3"/><circle cx="206.4" cy="175.6" r="1.3"/><circle cx="174.8" cy="174.5" r="1.3"/><circle cx="217.0" cy="192.3" r="1.3"/><circle cx="201.8" cy="200.9" r="1.3"/><circle cx="174.3" cy="206.9" r="1.3"/><circle cx="178.6" cy="227.6" r="1.3"/><circle cx="174.5" cy="232.4" r="1.3"/><circle cx="179.4" cy="235.8" r="1.3"/><circle cx="174.8" cy="237.0" r="1.3"/><circle cx="189.4" cy="233.9" r="1.3"/><circle cx="191.3" cy="231.9" r="1.3"/><circle cx="193.8" cy="236.7" r="1.3"/><circle cx="212.0" cy="233.9" r="1.3"/><circle cx="202.5" cy="240.4" r="1.3"/><circle cx="193.6" cy="243.8" r="1.3"/><circle cx="182.6" cy="244.3" r="1.3"/><circle cx="189.4" cy="254.9" r="1.3"/><circle cx="196.1" cy="255.1" r="1.3"/><circle cx="181.7" cy="263.4" r="1.3"/><circle cx="177.4" cy="266.4" r="1.3"/><circle cx="179.9" cy="267.9" r="1.3"/><circle cx="182.0" cy="270.2" r="1.3"/><circle cx="174.3" cy="287.0" r="1.3"/><circle cx="184.0" cy="292.7" r="1.3"/><circle cx="174.3" cy="294.4" r="1.3"/></g>
<g fill="#10a010"><circle cx="169.5" cy="296.6" r="1.3"/><circle cx="148.4" cy="296.1" r="1.3"/><circle cx="157.4" cy="295.5" r="1.3"/><circle cx="133.0" cy="295.0" r="1.3"/><circle cx="99.2" cy="294.5" r="1.3"/><circle cx="112.2" cy="293.9" r="1.3"/><circle cx="155.9" cy="293.4" r="1.3"/><circle cx="129.1" cy="292.9" r="1.3"/><circle cx="130.6" cy="292.3" r="1.3"/><circle cx="138.0" cy="291.8" r="1.3"/><circle cx="153.9" cy="291.3" r="1.3"/><circle cx="152.9" cy="290.7" r="1.3"/><circle cx="120.3" cy="288.6" r="1.3"/><circle cx="117.3" cy="288.1" r="1.3"/><circle cx="166.3" cy="287.5" r="1.3"/><circle cx="157.0" cy="287.0" r="1.3"/><circle cx="117.8" cy="286.5" r="1.3"/><circle cx="104.6" cy="285.9" r="1.3"/><circle cx="144.2" cy="284.3" r="1.3"/><circle cx="146.7" cy="283.8" r="1.3"/><circle cx="126.8" cy="283.3" r="1.3"/><circle cx="140.4" cy="282.7" r="1.3"/><circle cx="129.0" cy="281.1" r="1.3"/><circle cx="109.6" cy="280.6" r="1.3"/><circle cx="138.1" cy="279.0" r="1.3"/><circle cx="113.7" cy="278.5" r="1.3"/><circle cx="122.6" cy="277.9" r="1.3"/><circle cx="137.5" cy="276.3" r="1.3"/><circle cx="138.4" cy="275.8" r="1.3"/><circle cx="107.1" cy="275.2" r="1.3"/><circle cx="157.6" cy="274.7" r="1.3"/><circle cx="143.2" cy="274.2" r="1.3"/><circle cx="117.6" cy="273.6" r="1.3"/><circle cx="103.9" cy="273.1" r="1.3"/><circle cx="120.1" cy="272.6" r="1.3"/><circle cx="133.5" cy="271.0" r="1.3"/><circle cx="132.2" cy="270.4" r="1.3"/><circle cx="139.7" cy="269.9" r="1.3"/><circle cx="94.3" cy="269.4" r="1.3"/><circle cx="122.6" cy="268.8" r="1.3"/><circle cx="148.5" cy="268.3" r="1.3"/><circle cx="141.0" cy="267.8" r="1.3"/><circle cx="155.8" cy="267.2" r="1.3"/><circle cx="147.4" cy="266.7" r="1.3"/><circle cx="139.8" cy="266.2" r="1.3"/><circle cx="98.9" cy="265.6" r="1.3"/><circle cx="138.7" cy="265.1" r="1.3"/><circle cx="119.3" cy="264.6" r="1.3"/><circle cx="127.7" cy="264.0" r="1.3"/><circle cx="147.9" cy="263.5" r="1.3"/><circle cx="135.2" cy="263.0" r="1.3"/><circle cx="144.7" cy="262.4" r="1.3"/><circle cx="124.1" cy="261.9" r="1.3"/><circle cx="118.8" cy="261.4" r="1.3"/><circle cx="101.2" cy="258.2" r="1.3"/><circle cx="95.3" cy="257.6" r="1.3"/><circle cx="131.3" cy="256.0" r="1.3"/><circle cx="106.9" cy="255.5" r="1.3"/><circle cx="130.0" cy="252.3" r="1.3"/><circle cx="118.0" cy="251.8" r="1.3"/><circle cx="143.4" cy="251.2" r="1.3"/><circle cx="169.1" cy="250.7" r="1.3"/><circle cx="122.3" cy="250.2" r="1.3"/><circle cx="120.0" cy="249.6" r="1.3"/><circle cx="138.5" cy="249.1" r="1.3"/><circle cx="116.4" cy="247.5" r="1.3"/><circle cx="113.9" cy="247.0" r="1.3"/><circle cx="102.1" cy="246.4" r="1.3"/><circle cx="140.9" cy="245.9" r="1.3"/><circle cx="106.0" cy="245.4" r="1.3"/><circle cx="120.8" cy="244.8" r="1.3"/><circle cx="119.7" cy="244.3" r="1.3"/><circle cx="137.1" cy="243.8" r="1.3"/><circle cx="132.1" cy="243.2" r="1.3"/><circle cx="147.3" cy="242.7" r="1.3"/><circle cx="126.3" cy="241.1" r="1.3"/><circle cx="130.9" cy="240.6" r="1.3"/><circle cx="94.2" cy="240.0" r="1.3"/><circle cx="113.2" cy="239.5" r="1.3"/><circle cx="142.5" cy="237.9" r="1.3"/><circle cx="146.3" cy="237.4" r="1.3"/><circle cx="94.6" cy="236.8" r="1.3"/><circle cx="114.9" cy="235.2" r="1.3"/><circle cx="103.1" cy="234.7" r="1.3"/><circle cx="142.0" cy="233.1" r="1.3"/><circle cx="97.8" cy="230.9" r="1.3"/><circle cx="130.6" cy="229.3" r="1.3"/><circle cx="159.0" cy="228.8" r="1.3"/><circle cx="124.6" cy="228.3" r="1.3"/><circle cx="153.8" cy="226.7" r="1.3"/><circle cx="167.2" cy="226.1" r="1.3"/><circle cx="107.3" cy="224.5" r="1.3"/><circle cx="110.3" cy="224.0" r="1.3"/><circle cx="113.3" cy="223.5" r="1.3"/><circle cx="120.1" cy="222.9" r="1.3"/><circle cx="134.0" cy="222.4" r="1.3"/><circle cx="97.1" cy="221.9" r="1.3"/><circle cx="138.6" cy="221.3" r="1.3"/><circle cx="113.8" cy="220.8" r="1.3"/><circle cx="158.9" cy="220.3" r="1.3"/><circle cx="132.5" cy="218.7" r="1.3"/><circle cx="163.3" cy="218.1" r="1.3"/><circle cx="146.5" cy="217.6" r="1.3"/><circle cx="139.1" cy="217.1" r="1.3"/><circle cx="115.3" cy="216.5" r="1.3"/><circle cx="159.1" cy="216.0" r="1.3"/><circle cx="161.5" cy="214.4" r="1.3"/><circle cx="138.7" cy="213.9" r="1.3"/><circle cx="121.7" cy="213.3" r="1.3"/><circle cx="138.8" cy="212.8" r="1.3"/><circle cx="150.7" cy="211.2" r="1.3"/><circle cx="121.5" cy="210.7" r="1.3"/><circle cx="143.7" cy="210.1" r="1.3"/><circle cx="112.7" cy="209.6" r="1.3"/><circle cx="135.2" cy="209.1" r="1.3"/><circle cx="129.1" cy="208.5" r="1.3"/><circle cx="117.8" cy="208.0" r="1.3"/><circle cx="120.6" cy="207.5" r="1.3"/><circle cx="128.8" cy="205.9" r="1.3"/><circle cx="128.2" cy="205.3" r="1.3"/><circle cx="125.3" cy="203.7" r="1.3"/><circle cx="122.9" cy="203.2" r="1.3"/><circle cx="123.1" cy="202.7" r="1.3"/><circle cx="136.4" cy="202.1" r="1.3"/><circle cx="121.0" cy="201.6" r="1.3"/><circle cx="143.4" cy="201.1" r="1.3"/><circle cx="118.4" cy="199.5" r="1.3"/><circle cx="159.8" cy="197.9" r="1.3"/><circle cx="112.0" cy="197.3" r="1.3"/><circle cx="100.4" cy="196.8" r="1.3"/><circle cx="125.0" cy="196.3" r="1.3"/><circle cx="120.0" cy="195.7" r="1.3"/><circle cx="140.9" cy="195.2" r="1.3"/><circle cx="122.7" cy="194.7" r="1.3"/><circle cx="109.4" cy="192.0" r="1.3"/><circle cx="157.6" cy="191.5" r="1.3"/><circle cx="122.1" cy="189.8" r="1.3"/><circle cx="157.6" cy="189.3" r="1.3"/><circle cx="135.0" cy="187.2" r="1.3"/><circle cx="162.8" cy="186.6" r="1.3"/><circle cx="125.1" cy="186.1" r="1.3"/><circle cx="144.3" cy="185.6" r="1.3"/><circle cx="109.5" cy="185.0" r="1.3"/><circle cx="124.4" cy="184.5" r="1.3"/><circle cx="126.0" cy="184.0" r="1.3"/><circle cx="136.6" cy="183.4" r="1.3"/><circle cx="145.0" cy="182.9" r="1.3"/><circle cx="113.2" cy="180.8" r="1.3"/><circle cx="146.6" cy="180.2" r="1.3"/><circle cx="96.1" cy="179.7" r="1.3"/><circle cx="118.9" cy="179.2" r="1.3"/><circle cx="134.2" cy="178.6" r="1.3"/><circle cx="154.2" cy="178.1" r="1.3"/><circle cx="146.5" cy="177.6" r="1.3"/><circle cx="134.9" cy="177.0" r="1.3"/><circle cx="172.2" cy="176.5" r="1.3"/><circle cx="143.3" cy="176.0" r="1.3"/><circle cx="158.5" cy="175.4" r="1.3"/><circle cx="168.9" cy="174.9" r="1.3"/><circle cx="135.7" cy="174.4" r="1.3"/><circle cx="111.4" cy="172.8" r="1.3"/><circle cx="144.4" cy="172.2" r="1.3"/><circle cx="116.1" cy="171.7" r="1.3"/><circle cx="146.6" cy="171.2" r="1.3"/><circle cx="118.3" cy="170.6" r="1.3"/><circle cx="142.3" cy="170.1" r="1.3"/><circle cx="118.1" cy="169.6" r="1.3"/><circle cx="154.4" cy="169.0" r="1.3"/><circle cx="118.5" cy="168.5" r="1.3"/><circle cx="73.3" cy="181.6" r="1.3"/><circle cx="90.6" cy="173.4" r="1.3"/><circle cx="84.9" cy="182.2" r="1.3"/><circle cx="66.2" cy="198.9" r="1.3"/><circle cx="91.1" cy="193.8" r="1.3"/><circle cx="91.1" cy="206.9" r="1.3"/><circle cx="89.3" cy="215.0" r="1.3"/><circle cx="89.8" cy="219.4" r="1.3"/><circle cx="84.4" cy="227.6" r="1.3"/><circle cx="73.9" cy="238.8" r="1.3"/><circle cx="66.8" cy="241.9" r="1.3"/><circle cx="72.5" cy="254.9" r="1.3"/><circle cx="74.1" cy="260.5" r="1.3"/><circle cx="81.0" cy="252.9" r="1.3"/><circle cx="83.7" cy="253.5" r="1.3"/><circle cx="86.9" cy="259.7" r="1.3"/><circle cx="64.8" cy="271.9" r="1.3"/><circle cx="52.0" cy="279.8" r="1.3"/><circle cx="85.2" cy="277.0" r="1.3"/><circle cx="82.4" cy="282.1" r="1.3"/><circle cx="74.9" cy="285.2" r="1.3"/><circle cx="86.8" cy="289.4" r="1.3"/><circle cx="178.3" cy="188.5" r="1.3"/><circle cx="180.2" cy="188.1" r="1.3"/><circle cx="187.6" cy="190.7" r="1.3"/><circle cx="195.9" cy="192.9" r="1.3"/><circle cx="176.8" cy="200.3" r="1.3"/><circle cx="177.9" cy="204.3" r="1.3"/><circle cx="179.6" cy="206.7" r="1.3"/><circle cx="174.8" cy="211.8" r="1.3"/><circle cx="178.3" cy="230.1" r="1.3"/><circle cx="201.2" cy="225.4" r="1.3"/><circle cx="179.4" cy="233.9" r="1.3"/><circle cx="201.8" cy="232.4" r="1.3"/><circle cx="211.0" cy="231.5" r="1.3"/><circle cx="213.8" cy="231.5" r="1.3"/><circle cx="213.4" cy="233.9" r="1.3"/><circle cx="212.9" cy="235.8" r="1.3"/><circle cx="196.4" cy="248.1" r="1.3"/><circle cx="185.9" cy="256.9" r="1.3"/><circle cx="176.6" cy="258.8" r="1.3"/><circle cx="193.1" cy="290.1" r="1.3"/></g>
<g fill="#f01010"><circle cx="136.2" cy="296.6" r="1.3"/><circle cx="99.7" cy="296.1" r="1.3"/><circle cx="141.0" cy="295.5" r="1.3"/><circle cx="105.1" cy="295.0" r="1.3"/><circle cx="104.0" cy="294.5" r="1.3"/><circle cx="129.6" cy="293.9" r="1.3"/><circle cx="138.2" cy="293.4" r="1.3"/><circle cx="138.7" cy="292.9" r="1.3"/><circle cx="140.8" cy="292.3" r="1.3"/><circle cx="146.4" cy="291.8" r="1.3"/><circle cx="165.5" cy="291.3" r="1.3"/><circle cx="120.1" cy="290.7" r="1.3"/><circle cx="156.2" cy="290.2" r="1.3"/><circle cx="136.9" cy="289.7" r="1.3"/><circle cx="159.9" cy="289.1" r="1.3"/><circle cx="103.6" cy="288.6" r="1.3"/><circle cx="150.5" cy="288.1" r="1.3"/><circle cx="130.7" cy="287.5" r="1.3"/><circle cx="156.7" cy="287.0" r="1.3"/><circle cx="155.6" cy="286.5" r="1.3"/><circle cx="135.9" cy="285.9" r="1.3"/><circle cx="122.3" cy="285.4" r="1.3"/><circle cx="127.7" cy="284.9" r="1.3"/><circle cx="130.0" cy="284.3" r="1.3"/><circle cx="156.5" cy="283.8" r="1.3"/><circle cx="138.0" cy="283.3" r="1.3"/><circle cx="108.3" cy="282.7" r="1.3"/><circle cx="122.4" cy="282.2" r="1.3"/><circle cx="120.7" cy="279.5" r="1.3"/><circle cx="101.7" cy="279.0" r="1.3"/><circle cx="124.1" cy="276.9" r="1.3"/><circle cx="109.7" cy="276.3" r="1.3"/><circle cx="165.0" cy="275.8" r="1.3"/><circle cx="150.0" cy="275.2" r="1.3"/><circle cx="128.8" cy="274.7" r="1.3"/><circle cx="97.6" cy="274.2" r="1.3"/><circle cx="95.7" cy="273.6" r="1.3"/><circle cx="151.1" cy="273.1" r="1.3"/><circle cx="134.0" cy="272.6" r="1.3"/><circle cx="158.1" cy="272.0" r="1.3"/><circle cx="111.6" cy="271.5" r="1.3"/><circle cx="144.5" cy="271.0" r="1.3"/><circle cx="129.0" cy="270.4" r="1.3"/><circle cx="157.8" cy="269.9" r="1.3"/><circle cx="136.7" cy="269.4" r="1.3"/><circle cx="120.8" cy="268.8" r="1.3"/><circle cx="106.3" cy="268.3" r="1.3"/><circle cx="137.3" cy="267.8" r="1.3"/><circle cx="112.6" cy="267.2" r="1.3"/><circle cx="98.0" cy="266.7" r="1.3"/><circle cx="155.2" cy="266.2" r="1.3"/><circle cx="161.0" cy="265.6" r="1.3"/><circle cx="120.4" cy="265.1" r="1.3"/><circle cx="120.0" cy="264.6" r="1.3"/><circle cx="173.2" cy="264.0" r="1.3"/><circle cx="139.4" cy="263.5" r="1.3"/><circle cx="171.9" cy="263.0" r="1.3"/><circle cx="131.2" cy="259.8" r="1.3"/><circle cx="149.5" cy="259.2" r="1.3"/><circle cx="122.6" cy="258.7" r="1.3"/><circle cx="155.4" cy="258.2" r="1.3"/><circle cx="151.6" cy="257.6" r="1.3"/><circle cx="109.2" cy="257.1" r="1.3"/><circle cx="152.4" cy="256.6" r="1.3"/><circle cx="133.1" cy="256.0" r="1.3"/><circle cx="115.7" cy="255.5" r="1.3"/><circle cx="123.0" cy="255.0" r="1.3"/><circle cx="159.1" cy="253.4" r="1.3"/><circle cx="97.1" cy="252.8" r="1.3"/><circle cx="135.3" cy="252.3" r="1.3"/><circle cx="114.5" cy="251.8" r="1.3"/><circle cx="118.5" cy="251.2" r="1.3"/><circle cx="135.9" cy="250.7" r="1.3"/><circle cx="125.9" cy="250.2" r="1.3"/><circle cx="114.8" cy="249.6" r="1.3"/><circle cx="117.1" cy="249.1" r="1.3"/><circle cx="144.7" cy="248.6" r="1.3"/><circle cx="141.3" cy="247.0" r="1.3"/><circle cx="163.5" cy="245.4" r="1.3"/><circle cx="162.6" cy="244.8" r="1.3"/><circle cx="119.1" cy="243.2" r="1.3"/><circle cx="158.4" cy="242.7" r="1.3"/><circle cx="156.9" cy="242.2" r="1.3"/><circle cx="129.1" cy="241.6" r="1.3"/><circle cx="118.5" cy="241.1" r="1.3"/><circle cx="112.1" cy="240.6" r="1.3"/><circle cx="111.3" cy="240.0" r="1.3"/><circle cx="151.7" cy="239.5" r="1.3"/><circle cx="120.1" cy="239.0" r="1.3"/><circle cx="137.4" cy="238.4" r="1.3"/><circle cx="111.1" cy="237.9" r="1.3"/><circle cx="105.9" cy="237.4" r="1.3"/><circle cx="154.5" cy="236.8" r="1.3"/><circle cx="131.0" cy="235.2" r="1.3"/><circle cx="107.3" cy="230.9" r="1.3"/><circle cx="172.6" cy="230.4" r="1.3"/><circle cx="97.7" cy="229.9" r="1.3"/><circle cx="131.5" cy="229.3" r="1.3"/><circle cx="136.9" cy="228.8" r="1.3"/><circle cx="129.8" cy="228.3" r="1.3"/><circle cx="164.0" cy="227.7" r="1.3"/><circle cx="153.7" cy="227.2" r="1.3"/><circle cx="165.3" cy="226.7" r="1.3"/><circle cx="96.5" cy="225.1" r="1.3"/><circle cx="129.4" cy="223.5" r="1.3"/><circle cx="127.6" cy="222.9" r="1.3"/><circle cx="104.5" cy="222.4" r="1.3"/><circle cx="164.7" cy="221.9" r="1.3"/><circle cx="133.2" cy="220.3" r="1.3"/><circle cx="142.6" cy="219.7" r="1.3"/><circle cx="94.2" cy="219.2" r="1.3"/><circle cx="107.0" cy="218.7" r="1.3"/><circle cx="131.8" cy="218.1" r="1.3"/><circle cx="126.2" cy="217.6" r="1.3"/><circle cx="135.0" cy="216.0" r="1.3"/><circle cx="108.4" cy="214.4" r="1.3"/><circle cx="98.1" cy="213.9" r="1.3"/><circle cx="128.9" cy="213.3" r="1.3"/><circle cx="152.8" cy="212.8" r="1.3"/><circle cx="145.9" cy="212.3" r="1.3"/><circle cx="106.1" cy="211.7" r="1.3"/><circle cx="109.7" cy="211.2" r="1.3"/><circle cx="103.4" cy="210.7" r="1.3"/><circle cx="114.6" cy="210.1" r="1.3"/><circle cx="145.5" cy="209.6" r="1.3"/><circle cx="172.7" cy="209.1" r="1.3"/><circle cx="151.3" cy="208.5" r="1.3"/><circle cx="154.3" cy="206.9" r="1.3"/><circle cx="97.1" cy="206.4" r="1.3"/><circle cx="149.6" cy="205.9" r="1.3"/><circle cx="126.7" cy="205.3" r="1.3"/><circle cx="158.0" cy="204.8" r="1.3"/><circle cx="115.6" cy="204.3" r="1.3"/><circle cx="162.4" cy="203.7" r="1.3"/><circle cx="110.3" cy="203.2" r="1.3"/><circle cx="120.6" cy="202.7" r="1.3"/><circle cx="147.9" cy="202.1" r="1.3"/><circle cx="171.0" cy="201.6" r="1.3"/><circle cx="113.3" cy="201.1" r="1.3"/><circle cx="172.0" cy="200.5" r="1.3"/><circle cx="113.0" cy="200.0" r="1.3"/><circle cx="128.6" cy="199.5" r="1.3"/><circle cx="158.9" cy="198.9" r="1.3"/><circle cx="158.9" cy="198.4" r="1.3"/><circle cx="168.5" cy="197.9" r="1.3"/><circle cx="95.3" cy="197.3" r="1.3"/><circle cx="122.6" cy="196.8" r="1.3"/><circle cx="157.5" cy="195.2" r="1.3"/><circle cx="134.3" cy="194.7" r="1.3"/><circle cx="132.2" cy="194.1" r="1.3"/><circle cx="137.0" cy="193.6" r="1.3"/><circle cx="124.7" cy="193.1" r="1.3"/><circle cx="152.1" cy="192.5" r="1.3"/><circle cx="149.0" cy="192.0" r="1.3"/><circle cx="146.0" cy="191.5" r="1.3"/><circle cx="144.9" cy="190.9" r="1.3"/><circle cx="118.3" cy="190.4" r="1.3"/><circle cx="106.7" cy="189.8" r="1.3"/><circle cx="135.3" cy="189.3" r="1.3"/><circle cx="144.3" cy="188.8" r="1.3"/><circle cx="145.8" cy="188.2" r="1.3"/><circle cx="111.2" cy="187.7" r="1.3"/><circle cx="141.3" cy="186.1" r="1.3"/><circle cx="124.5" cy="185.6" r="1.3"/><circle cx="135.7" cy="185.0" r="1.3"/><circle cx="121.8" cy="184.5" r="1.3"/><circle cx="142.3" cy="184.0" r="1.3"/><circle cx="123.8" cy="183.4" r="1.3"/><circle cx="106.9" cy="182.9" r="1.3"/><circle cx="121.2" cy="182.4" r="1.3"/><circle cx="108.5" cy="181.8" r="1.3"/><circle cx="110.5" cy="181.3" r="1.3"/><circle cx="145.7" cy="180.8" r="1.3"/><circle cx="123.0" cy="179.2" r="1.3"/><circle cx="149.7" cy="177.6" r="1.3"/><circle cx="139.1" cy="175.4" r="1.3"/><circle cx="130.7" cy="174.9" r="1.3"/><circle cx="159.6" cy="174.4" r="1.3"/><circle cx="97.9" cy="173.8" r="1.3"/><circle cx="112.0" cy="173.3" r="1.3"/><circle cx="102.5" cy="172.8" r="1.3"/><circle cx="117.3" cy="170.1" r="1.3"/><circle cx="110.2" cy="168.5" r="1.3"/><circle cx="61.8" cy="171.7" r="1.3"/><circle cx="76.9" cy="170.9" r="1.3"/><circle cx="80.9" cy="180.0" r="1.3"/><circle cx="88.0" cy="176.5" r="1.3"/><circle cx="90.6" cy="169.4" r="1.3"/><circle cx="86.9" cy="207.8" r="1.3"/><circle cx="83.4" cy="215.4" r="1.3"/><circle cx="91.1" cy="216.8" r="1.3"/><circle cx="83.4" cy="225.9" r="1.3"/><circle cx="82.1" cy="247.6" r="1.3"/><circle cx="81.5" cy="254.4" r="1.3"/><circle cx="89.1" cy="261.1" r="1.3"/><circle cx="70.7" cy="277.5" r="1.3"/><circle cx="67.8" cy="280.6" r="1.3"/><circle cx="91.1" cy="278.1" r="1.3"/><circle cx="176.0" cy="178.3" r="1.3"/><circle cx="186.7" cy="186.8" r="1.3"/><circle cx="189.0" cy="195.8" r="1.3"/><circle cx="174.5" cy="221.1" r="1.3"/><circle cx="184.0" cy="224.4" r="1.3"/><circle cx="192.2" cy="234.5" r="1.3"/><circle cx="203.0" cy="231.6" r="1.3"/><circle cx="202.7" cy="236.1" r="1.3"/><circle cx="223.7" cy="233.9" r="1.3"/><circle cx="238.4" cy="233.6" r="1.3"/><circle cx="239.5" cy="233.0" r="1.3"/><circle cx="244.9" cy="232.1" r="1.3"/><circle cx="202.7" cy="243.8" r="1.3"/><circle cx="184.8" cy="246.1" r="1.3"/><circle cx="192.2" cy="260.8" r="1.3"/><circle cx="195.6" cy="261.9" r="1.3"/><circle cx="187.6" cy="281.6" r="1.3"/></g>
<g fill="#1070c8"><circle cx="345.0" cy="189.8" r="1.3"/><circle cx="358.5" cy="195.2" r="1.3"/><circle cx="348.2" cy="205.9" r="1.3"/><circle cx="346.6" cy="211.2" r="1.3"/><circle cx="377.9" cy="216.5" r="1.3"/><circle cx="383.0" cy="221.9" r="1.3"/><circle cx="393.8" cy="227.2" r="1.3"/><circle cx="405.6" cy="168.5" r="1.3"/><circle cx="414.5" cy="184.5" r="1.3"/><circle cx="414.1" cy="200.5" r="1.3"/><circle cx="406.7" cy="232.6" r="1.3"/><circle cx="396.6" cy="243.2" r="1.3"/><circle cx="367.1" cy="248.6" r="1.3"/><circle cx="385.0" cy="253.9" r="1.3"/><circle cx="338.8" cy="259.2" r="1.3"/><circle cx="357.6" cy="264.6" r="1.3"/><circle cx="385.3" cy="269.9" r="1.3"/><circle cx="360.0" cy="275.2" r="1.3"/><circle cx="398.3" cy="285.9" r="1.3"/><circle cx="352.0" cy="291.3" r="1.3"/><circle cx="430.2" cy="280.6" r="1.3"/></g>
<g fill="#ff7008"><circle cx="373.7" cy="173.8" r="1.3"/><circle cx="309.7" cy="184.5" r="1.3"/><circle cx="350.6" cy="189.8" r="1.3"/><circle cx="353.0" cy="195.2" r="1.3"/><circle cx="334.6" cy="205.9" r="1.3"/><circle cx="387.2" cy="211.2" r="1.3"/><circle cx="367.5" cy="216.5" r="1.3"/><circle cx="387.2" cy="221.9" r="1.3"/><circle cx="414.1" cy="168.5" r="1.3"/><circle cx="448.8" cy="179.2" r="1.3"/><circle cx="426.1" cy="200.5" r="1.3"/><circle cx="429.1" cy="227.2" r="1.3"/><circle cx="499.2" cy="232.6" r="1.3"/><circle cx="393.9" cy="237.9" r="1.3"/><circle cx="361.7" cy="248.6" r="1.3"/><circle cx="357.4" cy="253.9" r="1.3"/><circle cx="376.8" cy="259.2" r="1.3"/><circle cx="380.1" cy="264.6" r="1.3"/><circle cx="365.4" cy="275.2" r="1.3"/><circle cx="386.3" cy="280.6" r="1.3"/><circle cx="326.2" cy="285.9" r="1.3"/><circle cx="328.2" cy="291.3" r="1.3"/><circle cx="370.4" cy="296.6" r="1.3"/><circle cx="405.4" cy="243.2" r="1.3"/><circle cx="416.3" cy="269.9" r="1.3"/></g>
<g fill="#10a010"><circle cx="344.2" cy="168.5" r="1.3"/><circle cx="376.7" cy="173.8" r="1.3"/><circle cx="374.9" cy="179.2" r="1.3"/><circle cx="401.0" cy="184.5" r="1.3"/><circle cx="398.0" cy="195.2" r="1.3"/><circle cx="373.7" cy="200.5" r="1.3"/><circle cx="345.8" cy="205.9" r="1.3"/><circle cx="367.9" cy="211.2" r="1.3"/><circle cx="390.4" cy="216.5" r="1.3"/><circle cx="370.1" cy="221.9" r="1.3"/><circle cx="317.7" cy="227.2" r="1.3"/><circle cx="408.0" cy="189.8" r="1.3"/><circle cx="485.2" cy="232.6" r="1.3"/><circle cx="379.3" cy="237.9" r="1.3"/><circle cx="350.5" cy="243.2" r="1.3"/><circle cx="375.8" cy="248.6" r="1.3"/><circle cx="377.8" cy="259.2" r="1.3"/><circle cx="338.4" cy="264.6" r="1.3"/><circle cx="318.7" cy="269.9" r="1.3"/><circle cx="384.8" cy="280.6" r="1.3"/><circle cx="348.1" cy="285.9" r="1.3"/><circle cx="327.0" cy="291.3" r="1.3"/><circle cx="328.0" cy="296.6" r="1.3"/><circle cx="419.0" cy="253.9" r="1.3"/><circle cx="404.5" cy="275.2" r="1.3"/></g>
<g fill="#f01010"></g>
<rect x="42.3" y="168.5" width="212.20" height="128.10" fill="none" stroke="#858585" stroke-width="1"/>
<g stroke="#444444" stroke-width="0.8"><line x1="78.52" y1="297.1" x2="78.52" y2="298.8"/><line x1="132.82" y1="297.1" x2="132.82" y2="298.8"/><line x1="187.12" y1="297.1" x2="187.12" y2="298.8"/><line x1="241.41" y1="297.1" x2="241.41" y2="298.8"/><line x1="40.099999999999994" y1="296.60" x2="41.8" y2="296.60"/><line x1="40.099999999999994" y1="275.25" x2="41.8" y2="275.25"/><line x1="40.099999999999994" y1="253.90" x2="41.8" y2="253.90"/><line x1="40.099999999999994" y1="232.55" x2="41.8" y2="232.55"/><line x1="40.099999999999994" y1="211.20" x2="41.8" y2="211.20"/><line x1="40.099999999999994" y1="189.85" x2="41.8" y2="189.85"/><line x1="40.099999999999994" y1="168.50" x2="41.8" y2="168.50"/></g>
<text x="78.52" y="307.40" font-size="9.2" text-anchor="middle">−10</text>
<text x="132.82" y="307.40" font-size="9.2" text-anchor="middle">0</text>
<text x="187.12" y="307.40" font-size="9.2" text-anchor="middle">10</text>
<text x="241.41" y="307.40" font-size="9.2" text-anchor="middle">20</text>
<text x="38.50" y="299.80" font-size="9.2" text-anchor="end">−6</text>
<text x="38.50" y="278.45" font-size="9.2" text-anchor="end">−4</text>
<text x="38.50" y="257.10" font-size="9.2" text-anchor="end">−2</text>
<text x="38.50" y="235.75" font-size="9.2" text-anchor="end">0</text>
<text x="38.50" y="214.40" font-size="9.2" text-anchor="end">2</text>
<text x="38.50" y="193.05" font-size="9.2" text-anchor="end">4</text>
<text x="38.50" y="171.70" font-size="9.2" text-anchor="end">6</text>
<rect x="296.3" y="168.5" width="212.70" height="128.10" fill="none" stroke="#858585" stroke-width="1"/>
<g stroke="#444444" stroke-width="0.8"><line x1="313.48" y1="297.1" x2="313.48" y2="298.8"/><line x1="370.39" y1="297.1" x2="370.39" y2="298.8"/><line x1="427.29" y1="297.1" x2="427.29" y2="298.8"/><line x1="484.19" y1="297.1" x2="484.19" y2="298.8"/><line x1="294.1" y1="296.60" x2="295.8" y2="296.60"/><line x1="294.1" y1="275.25" x2="295.8" y2="275.25"/><line x1="294.1" y1="253.90" x2="295.8" y2="253.90"/><line x1="294.1" y1="232.55" x2="295.8" y2="232.55"/><line x1="294.1" y1="211.20" x2="295.8" y2="211.20"/><line x1="294.1" y1="189.85" x2="295.8" y2="189.85"/><line x1="294.1" y1="168.50" x2="295.8" y2="168.50"/></g>
<text x="313.48" y="307.40" font-size="9.2" text-anchor="middle">−10</text>
<text x="370.39" y="307.40" font-size="9.2" text-anchor="middle">0</text>
<text x="427.29" y="307.40" font-size="9.2" text-anchor="middle">10</text>
<text x="484.19" y="307.40" font-size="9.2" text-anchor="middle">20</text>
<text x="292.50" y="299.80" font-size="9.2" text-anchor="end">−6</text>
<text x="292.50" y="278.45" font-size="9.2" text-anchor="end">−4</text>
<text x="292.50" y="257.10" font-size="9.2" text-anchor="end">−2</text>
<text x="292.50" y="235.75" font-size="9.2" text-anchor="end">0</text>
<text x="292.50" y="214.40" font-size="9.2" text-anchor="end">2</text>
<text x="292.50" y="193.05" font-size="9.2" text-anchor="end">4</text>
<text x="292.50" y="171.70" font-size="9.2" text-anchor="end">6</text>
<circle cx="209.8" cy="252.2" r="1.0" fill="#1070c8"/>
<text x="224.0" y="255.0" font-size="8.1">4 km</text>
<circle cx="209.8" cy="263.4" r="1.0" fill="#ff7008"/>
<text x="224.0" y="266.2" font-size="8.1">2 km</text>
<circle cx="209.8" cy="274.6" r="1.0" fill="#10a010"/>
<text x="224.0" y="277.4" font-size="8.1">1 km</text>
<circle cx="209.8" cy="285.8" r="1.0" fill="#f01010"/>
<text x="224.0" y="288.6" font-size="8.1">0.5 km</text>
<circle cx="470.9" cy="178.9" r="1.0" fill="#1070c8"/>
<text x="485.1" y="181.7" font-size="8.1">4 km</text>
<circle cx="470.9" cy="190.1" r="1.0" fill="#ff7008"/>
<text x="485.1" y="192.9" font-size="8.1">2 km</text>
<circle cx="470.9" cy="201.3" r="1.0" fill="#10a010"/>
<text x="485.1" y="204.1" font-size="8.1">1 km</text>
<text x="148.3" y="11.3" font-size="9.55" text-anchor="middle">Resolution 0.05 km</text>
<text x="402.7" y="11.3" font-size="9.55" text-anchor="middle">Resolution 0.5 km</text>
<text x="148.2" y="164.7" font-size="9.55" text-anchor="middle">Distance along wind (km)</text>
<text x="402.7" y="164.7" font-size="9.55" text-anchor="middle">Distance along wind (km)</text>
<text x="148.8" y="318.9" font-size="9.55" text-anchor="middle">XCH<tspan font-size="6.5" dy="2">4</tspan><tspan dy="-2"> enhencement (ppb)</tspan></text>
<text x="402.7" y="318.9" font-size="9.55" text-anchor="middle">XCH<tspan font-size="6.5" dy="2">4</tspan><tspan dy="-2"> enhencement (ppb)</tspan></text>
<text transform="translate(10.6,153.6) rotate(-90)" font-size="9.55" text-anchor="middle">Distance perpendicular to wind (km)</text>
<rect x="518" y="7" width="6" height="147" fill="url(#cb)" stroke="#9a9a9a" stroke-width="0.7"/>
<text x="525.6" y="145.89" font-size="9.2">−5</text>
<text x="525.6" y="123.28" font-size="9.2">0</text>
<text x="525.6" y="100.66" font-size="9.2">5</text>
<text x="525.6" y="78.05" font-size="9.2">10</text>
<text x="525.6" y="55.43" font-size="9.2">15</text>
<text x="525.6" y="32.82" font-size="9.2">20</text>
<text x="525.6" y="10.20" font-size="9.2">25</text>
<text transform="translate(545,80.6) rotate(-90)" font-size="9.55" text-anchor="middle">XCH<tspan font-size="6.5" dy="2">4</tspan><tspan dy="-2"> enhancement (ppb)</tspan></text>
</svg></body></html>
